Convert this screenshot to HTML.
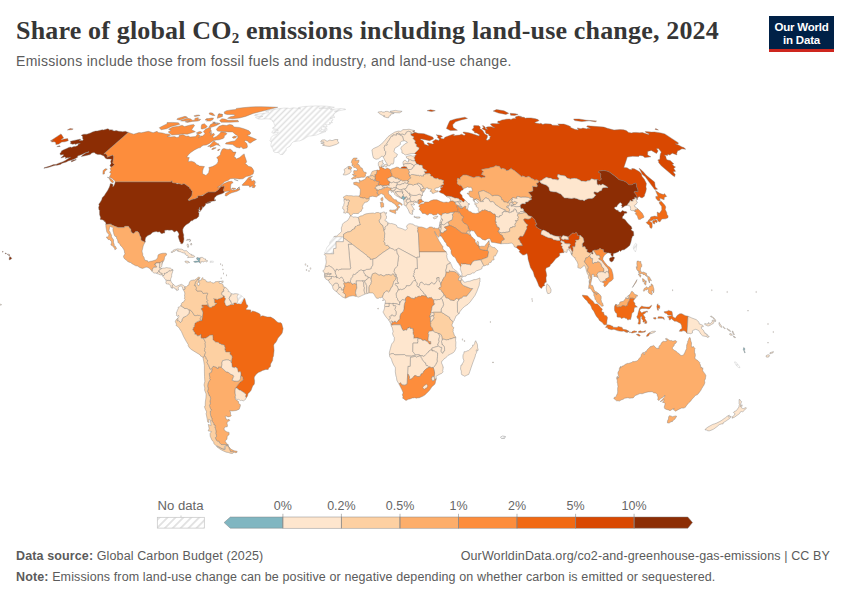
<!DOCTYPE html>
<html><head><meta charset="utf-8">
<style>
html,body{margin:0;padding:0;background:#fff;}
body{width:850px;height:600px;position:relative;overflow:hidden;font-family:"Liberation Sans",sans-serif;}
.t{position:absolute;left:16px;top:15.5px;font-family:"Liberation Serif",serif;font-weight:bold;font-size:26px;color:#363636;white-space:nowrap;letter-spacing:0.17px;}
.t sub{font-size:15px;vertical-align:baseline;position:relative;top:4px;}
.s{position:absolute;left:16px;top:52.5px;font-size:14px;color:#5b5b5b;white-space:nowrap;letter-spacing:0.3px;}
.logo{position:absolute;left:769px;top:16px;width:65px;height:36px;background:#002147;color:#fff;font-size:11.5px;font-weight:bold;line-height:12.5px;text-align:center;box-sizing:border-box;padding-top:5.2px;letter-spacing:-0.2px;}
.logo:after{content:"";position:absolute;left:0;right:0;bottom:0;height:2.8px;background:#ce261e;}
.ft{position:absolute;left:16px;font-size:12.5px;color:#5b5b5b;white-space:nowrap;letter-spacing:0.12px;}
.ft b{color:#5b5b5b;}
svg{position:absolute;left:0;top:0;}
</style></head><body>
<div class="t">Share of global CO<sub>2</sub> emissions including land-use change, 2024</div>
<div class="s">Emissions include those from fossil fuels and industry, and land-use change.</div>
<div class="logo">Our World<br>in Data</div>
<svg width="850" height="600" viewBox="0 0 850 600">
<defs>
<pattern id="hatch" patternUnits="userSpaceOnUse" width="4.2" height="4.2" patternTransform="rotate(-45)">
<rect width="4.2" height="4.2" fill="#fff"/><line x1="0" y1="2.1" x2="4.2" y2="2.1" stroke="#e0e0e0" stroke-width="1.5"/>
</pattern>
<pattern id="hatch2" patternUnits="userSpaceOnUse" width="5.6" height="5.6" patternTransform="rotate(-45)">
<rect width="5.6" height="5.6" fill="#fff"/><line x1="0" y1="2.8" x2="5.6" y2="2.8" stroke="#dedede" stroke-width="1.6"/>
</pattern>
</defs>
<g stroke="#7a7a7a" stroke-width="0.4" stroke-linejoin="round">
<path fill="#8c2d04" d="M172.3 180.8L172.0 182.3L173.7 182.9L175.6 183.1L177.2 184.1L179.0 183.6L181.7 184.4L183.9 183.6L185.5 184.6L186.9 185.4L188.1 186.4L189.4 187.2L189.8 188.2L190.6 188.2L191.2 189.2L191.3 189.5L190.9 190.0L192.4 191.3L192.1 193.6L191.8 195.7L190.6 197.2L188.9 198.8L188.2 199.5L188.7 200.6L189.3 200.6L192.1 199.3L194.6 198.8L197.8 197.5L197.7 195.9L198.9 195.7L202.8 195.7L204.1 194.4L207.0 192.6L208.0 192.0L215.0 192.0L216.1 191.3L218.3 189.7L219.7 187.7L222.0 185.9L222.4 186.4L224.0 185.9L224.5 186.7L223.3 190.3L224.2 191.8L224.2 192.6L221.7 193.8L219.2 194.6L216.9 195.4L215.3 196.9L214.7 197.5L214.2 199.0L214.5 200.3L215.3 200.3L215.3 199.5L215.8 200.0L215.3 200.8L214.0 201.1L212.9 201.1L211.1 201.6L208.9 201.9L206.9 202.6L210.3 202.1L210.7 202.6L207.5 203.4L206.0 203.4L205.3 203.7L205.9 203.9L204.9 205.7L202.8 207.8L202.4 207.0L202.0 206.3L202.3 208.1L202.0 209.1L201.1 210.2L199.4 212.2L199.3 212.0L200.4 210.4L199.6 209.4L199.8 207.0L199.2 208.3L199.2 209.9L197.8 209.6L199.1 210.4L198.4 212.8L199.0 213.0L199.0 213.8L198.7 216.4L196.6 218.5L194.2 219.3L192.3 220.8L191.2 220.8L189.9 221.9L189.5 222.7L186.6 224.5L185.0 225.8L183.7 227.4L182.8 229.2L182.8 231.0L183.1 233.1L183.8 234.9L183.6 236.3L184.0 239.1L183.6 241.0L183.4 242.0L182.5 243.6L181.8 243.8L180.7 243.6L180.7 242.5L179.9 241.7L179.2 239.7L178.5 237.6L178.2 236.5L179.0 234.7L178.8 233.4L177.4 231.3L176.7 230.8L174.2 232.1L173.8 231.8L173.0 230.5L171.8 230.0L169.3 230.2L167.4 230.0L165.5 230.2L164.6 230.5L164.8 231.3L164.6 232.3L164.9 232.9L164.4 233.1L163.6 232.9L162.6 233.4L161.0 233.4L159.8 231.8L157.8 232.1L156.3 231.6L154.9 231.8L152.8 232.3L150.4 234.4L147.9 235.5L146.5 236.8L145.6 237.8L145.2 239.7L145.1 241.0L145.4 241.7L144.5 242.0L143.1 241.2L141.4 240.4L141.0 239.4L141.0 237.6L140.0 236.0L139.5 234.4L138.8 232.6L137.5 231.6L135.7 231.6L133.9 233.6L132.3 232.9L131.2 232.1L131.0 230.8L130.8 229.5L129.9 228.2L129.0 227.4L128.5 226.3L124.8 226.3L124.3 227.6L122.6 227.6L118.2 227.6L113.7 225.8L110.9 224.5L111.3 224.0L108.3 224.2L105.8 224.5L105.9 223.2L105.1 221.6L104.1 221.4L104.2 220.6L103.0 220.3L102.5 219.8L100.4 219.5L100.2 219.0L100.6 217.4L99.6 214.8L99.5 211.2L99.8 210.7L99.0 209.9L98.6 207.6L99.2 205.5L98.8 204.2L100.4 202.1L101.7 199.8L102.2 197.7L104.4 195.4L105.9 193.1L107.5 190.8L109.3 187.2L110.0 185.2L110.2 183.9L110.8 183.4L113.1 184.4L112.7 186.7L113.8 185.9L114.7 183.9L115.4 181.8L171.0 181.8L171.5 180.8ZM128.3 132.4L103.8 153.9L105.7 153.9L106.7 154.6L107.1 155.6L107.0 157.3L112.7 155.1L113.6 156.3L113.5 158.5L112.7 162.9L114.4 164.6L113.1 166.1L111.1 167.3L109.9 165.6L111.1 163.4L110.6 161.4L111.5 159.3L110.0 159.0L107.0 159.0L105.5 158.3L103.9 155.9L100.4 154.4L97.7 154.6L95.3 153.5L94.2 152.5L91.7 153.0L90.2 154.6L86.3 155.4L83.8 156.1L81.3 156.6L82.2 155.4L85.8 153.0L88.6 152.3L88.9 151.6L84.9 153.0L82.0 154.4L77.5 156.1L77.6 157.3L73.8 159.3L70.7 160.2L68.0 161.0L66.4 161.9L62.2 163.2L60.3 164.4L57.0 165.3L55.6 165.3L53.4 165.8L50.4 166.8L47.9 167.5L43.9 168.3L44.2 167.8L47.3 166.8L49.8 166.1L53.6 164.6L56.1 164.4L58.2 163.4L62.4 161.9L65.4 160.5L68.0 158.8L70.7 157.3L67.6 158.0L67.6 157.6L65.4 158.5L65.6 157.3L64.9 156.8L61.9 157.8L60.8 157.8L63.5 155.6L63.4 154.6L60.5 155.1L60.3 153.9L59.8 153.5L61.4 152.1L61.3 151.1L63.8 149.7L66.7 148.5L68.7 147.4L70.5 147.1L71.4 147.4L74.0 146.4L75.4 146.4L77.5 145.7L78.3 144.8L78.0 144.3L80.4 143.4L79.4 143.4L76.9 143.8L75.5 144.6L75.1 143.8L72.7 144.3L70.3 143.6L70.8 142.7L70.4 141.3L74.1 140.4L79.5 139.3L80.9 139.3L79.2 140.4L82.8 140.4L83.3 139.1L82.4 138.2L82.8 137.1L82.4 136.2L81.2 135.3L83.8 134.2L86.9 134.2L90.4 133.0L92.5 131.9L95.4 131.1L97.4 130.9L102.2 129.8L103.4 130.0L107.8 128.7L109.3 129.4L109.3 130.2L110.6 129.8L113.1 130.0L112.3 130.4L114.3 130.9L116.2 130.6L118.8 131.3L121.6 131.5L122.6 131.7L125.4 131.3L127.0 131.9L128.3 132.4ZM60.3 146.4L56.8 146.7L59.4 145.7ZM9.9 259.8L9.0 259.5L9.3 258.2L9.7 256.6L11.1 257.4L11.8 258.5ZM9.5 255.6L8.8 255.6L8.3 254.8L9.1 254.5L9.9 255.1ZM7.1 254.3L8.3 254.0L7.5 254.5ZM5.4 253.8L6.3 253.8L6.1 253.0L5.2 253.0ZM2.9 252.2L2.1 251.7L2.7 251.4L3.3 251.7ZM76.3 159.7L71.5 161.9L71.3 160.7L75.8 159.5Z"/>
<path fill="#fd8d3c" d="M128.3 132.4L133.7 134.2L139.0 132.6L141.3 132.8L148.2 131.3L150.0 131.7L153.1 132.8L157.1 131.3L158.2 132.6L162.5 133.0L165.7 133.9L169.5 134.2L170.6 135.3L167.1 136.4L170.8 136.9L174.5 136.6L176.8 137.5L179.1 136.9L179.0 135.5L183.0 134.6L186.0 136.2L188.4 136.0L190.0 137.1L195.6 136.6L197.5 133.9L200.3 135.7L198.6 137.8L201.1 136.0L202.5 136.0L205.1 133.7L203.4 131.5L205.5 129.2L208.8 127.7L210.7 127.9L210.6 129.8L211.6 131.3L209.2 132.4L212.0 132.8L210.1 135.1L213.8 133.3L214.6 134.8L213.0 136.4L213.3 138.0L216.4 136.4L219.0 134.4L221.0 131.9L223.1 132.1L225.5 132.4L226.9 133.5L226.2 134.6L224.1 136.0L224.4 137.1L223.3 138.4L219.1 139.8L216.5 140.0L213.8 140.4L210.7 142.5L209.5 143.4L206.3 145.0L203.5 145.3L201.6 146.2L200.5 147.6L198.2 148.1L194.5 149.9L190.8 152.5L188.7 154.4L186.6 157.3L189.3 157.6L188.5 160.0L188.3 161.7L191.3 161.2L194.3 162.2L195.6 163.2L196.2 164.4L198.0 165.1L199.5 166.1L202.5 166.3L204.5 166.6L203.3 168.5L202.6 171.0L202.6 173.8L204.7 174.8L205.9 175.5L208.6 172.8L209.4 169.0L208.8 167.5L212.4 166.6L215.4 164.9L217.4 163.2L218.1 161.4L218.0 159.3L216.7 157.6L220.3 154.9L220.6 152.8L222.2 149.2L223.9 148.5L226.5 149.2L228.2 149.5L230.1 149.0L232.7 151.1L232.7 152.1L236.0 152.1L234.0 157.1L235.5 157.6L236.3 159.0L239.6 157.6L242.6 154.9L244.2 153.9L244.7 156.1L245.8 159.0L246.7 161.9L245.2 163.6L247.1 164.9L248.3 166.3L251.1 167.0L252.1 167.8L253.6 170.3L253.9 171.0L253.1 174.0L251.5 174.8L249.8 175.8L246.1 176.5L242.9 178.8L239.4 179.0L235.2 178.5L232.2 178.5L230.1 178.8L227.9 180.6L224.9 181.6L220.8 185.2L217.5 187.4L219.4 186.9L223.8 183.6L228.7 181.6L231.8 181.3L233.2 182.6L230.9 184.1L230.6 186.9L230.5 189.0L232.8 190.3L236.4 189.7L239.4 186.9L239.0 188.7L239.9 189.7L237.0 191.3L231.8 192.8L229.6 193.8L226.5 195.9L225.1 195.7L225.6 193.3L230.0 191.3L226.7 191.3L224.2 191.8L223.3 190.3L224.5 186.7L224.0 185.9L222.4 186.4L222.0 185.9L219.7 187.7L218.3 189.7L216.1 191.3L215.0 192.0L208.0 192.0L204.1 194.4L200.9 195.7L197.7 195.9L197.6 197.5L194.6 198.8L192.1 199.3L189.3 200.6L188.2 199.5L190.6 197.2L191.8 195.7L192.1 193.6L192.4 191.3L190.9 190.0L190.4 188.7L189.5 188.5L189.4 187.2L186.9 185.4L183.9 183.6L181.7 184.4L179.0 183.6L175.6 183.1L173.7 182.9L172.0 182.3L172.3 180.8L171.5 180.8L171.0 181.8L115.0 181.8L114.8 180.6L112.8 179.3L112.1 178.3L109.3 177.3L111.2 173.5L109.6 172.5L111.0 170.3L110.1 168.5L111.1 167.3L113.1 166.1L114.4 164.6L112.7 162.9L113.5 158.5L113.6 156.3L112.7 155.1L107.0 157.3L107.1 155.6L106.7 154.6L105.7 153.9L103.8 153.9ZM113.1 183.1L111.1 181.8L110.1 180.3L108.9 177.8L107.3 177.3L109.1 177.8L111.4 179.3L113.4 181.1ZM104.5 171.8L104.5 173.8L102.9 174.3L103.0 170.8L105.0 168.8L107.3 169.0ZM252.6 176.0L249.0 179.8L250.7 178.8L251.7 179.5L250.9 180.3L252.4 181.1L253.5 180.3L255.2 181.3L254.1 183.1L255.7 182.6L254.2 184.1L255.6 185.7L254.3 187.7L252.1 187.4L253.1 185.4L249.7 187.2L249.0 185.4L242.3 185.4L242.3 184.6L245.3 181.6L248.6 177.5ZM234.2 179.5L238.2 180.8L235.4 179.8ZM232.5 188.0L235.8 188.5L233.6 189.5L231.5 188.5ZM237.8 188.7L239.7 189.2L238.9 187.2L236.5 189.5ZM219.9 149.5L218.0 150.9L217.6 149.9L219.5 149.0ZM216.2 147.8L213.0 149.5L211.8 149.5L211.9 148.8L213.7 147.8ZM220.3 146.0L218.0 145.0L216.2 144.8L213.4 146.2L210.1 147.4L210.2 146.2L207.7 146.4L209.9 145.3L211.5 143.4L213.5 141.3L214.7 141.3L215.4 142.0L216.0 142.7L217.4 143.4L219.1 144.1L218.5 145.0ZM220.2 123.5L215.7 125.8L210.5 127.5L208.9 127.3L210.5 124.5L213.5 123.0L217.6 123.0ZM200.4 131.5L202.2 132.4L200.1 133.7L198.2 133.9L196.3 133.0L198.9 131.7ZM204.4 123.7L206.2 125.4L207.3 126.2L205.8 128.1L202.4 129.0L201.1 128.7L201.3 126.0L201.8 124.5ZM194.6 125.4L192.8 128.1L191.6 129.8L195.4 131.7L192.1 132.8L187.3 134.2L182.8 133.9L179.7 134.4L171.8 135.1L168.2 131.9L171.1 130.2L168.6 129.2L172.8 127.1L178.8 126.2L182.1 125.2L184.4 126.6L190.7 124.9L193.7 124.5ZM166.6 128.7L161.1 129.8L159.3 127.7L163.6 125.4L167.0 123.9L167.0 122.6L172.6 122.4L178.2 122.8L179.1 123.5L179.8 124.3L171.5 126.4ZM197.4 117.7L198.8 117.9L197.9 118.8L197.5 119.6L199.4 119.2L200.7 119.4L200.0 120.2L197.8 121.1L192.3 121.4L187.2 122.4L185.2 121.8L189.8 120.8L182.2 121.1L180.6 120.8L185.6 118.8L187.8 118.3L190.9 119.0L192.1 120.2L194.7 120.2L194.9 118.4ZM198.5 115.0L200.1 115.5L195.2 116.5L193.9 115.9L196.2 115.2ZM209.9 112.8L212.5 113.0L214.9 115.5L212.8 115.4L209.4 114.2L209.0 113.6ZM220.9 114.2L223.0 114.8L221.0 115.5L218.5 115.5L218.9 113.6ZM183.3 119.0L179.9 120.0L176.8 119.4L177.6 118.4L185.0 116.3L187.2 117.1L187.5 117.5L183.9 118.4ZM213.5 118.1L213.0 119.6L210.3 121.1L206.4 121.0L207.8 120.0L205.1 120.0L206.7 118.6L208.4 118.6L211.5 118.1ZM214.3 123.0L217.3 124.1L217.6 123.0L213.5 123.0L212.6 122.2L215.3 122.0Z"/>
<path fill="url(#hatch)" stroke="#c6c6c6" d="M298.6 107.5L303.8 106.5L315.4 105.9L326.2 106.1L334.4 107.3L331.5 107.9L326.3 107.9L318.8 108.1L319.3 108.4L324.2 108.2L328.4 108.7L331.2 108.2L332.1 108.9L330.3 109.6L334.1 109.2L340.9 108.6L345.0 108.9L345.8 109.5L339.8 110.6L338.8 110.9L334.3 111.2L337.6 111.3L335.5 112.7L334.1 113.8L333.5 116.1L335.0 117.3L332.7 117.5L330.0 118.1L333.0 119.0L332.5 120.8L330.8 120.8L332.5 122.6L329.0 122.8L330.7 123.7L329.9 124.3L327.6 124.7L325.4 124.7L327.1 126.2L326.9 127.1L323.9 126.2L323.0 126.8L325.1 127.3L326.9 128.5L327.1 130.2L324.2 130.6L321.4 128.7L321.5 130.0L319.2 131.3L323.7 131.3L326.0 131.5L321.1 133.3L316.2 135.1L310.9 136.0L309.0 136.0L307.1 136.9L304.0 139.1L299.7 140.9L298.7 140.9L296.1 141.3L293.5 141.8L291.4 143.4L290.9 145.0L289.6 146.4L286.1 148.3L286.2 150.2L284.7 152.1L283.0 154.4L280.3 154.6L278.3 152.5L274.7 152.5L273.5 151.4L273.1 149.0L271.1 146.2L270.9 144.6L271.4 142.5L269.9 140.4L271.3 138.9L270.5 138.0L273.4 135.3L276.2 134.6L277.3 133.7L278.4 131.9L276.3 132.6L273.5 133.3L271.8 132.6L272.4 131.1L273.6 130.0L275.2 130.0L278.3 130.4L276.2 129.2L273.3 128.7L272.4 128.1L275.2 126.2L274.7 125.4L273.5 121.8L272.0 121.0L272.6 120.2L269.3 119.0L266.2 118.8L261.8 119.2L258.3 119.0L257.0 118.4L255.4 117.3L259.8 116.7L263.0 116.5L257.0 116.1L254.3 115.4L255.1 114.6L261.6 113.6L267.8 112.7L269.0 111.9L265.6 111.3L267.3 110.7L273.3 109.6L279.0 108.6L283.7 108.1L288.0 108.1L289.2 108.6L293.4 107.8L296.4 108.2L298.2 108.4L300.8 108.9L298.0 108.1L298.6 107.5Z"/>
<path fill="#fdae6b" d="M105.8 224.5L108.4 224.2L111.3 224.0L110.9 224.5L113.7 225.8L118.2 227.6L122.6 227.6L124.3 227.6L124.8 226.3L128.5 226.3L129.0 227.4L129.9 228.2L130.8 229.5L131.0 230.8L131.2 232.1L132.3 232.9L133.9 233.6L135.7 231.6L137.5 231.6L138.8 232.6L139.5 234.4L140.0 236.0L141.0 237.6L141.0 239.4L141.4 240.4L143.1 241.2L144.5 242.0L145.4 241.7L144.0 244.1L143.2 245.9L142.4 249.6L142.0 250.9L142.2 252.2L142.7 253.5L142.8 255.6L144.1 257.4L144.4 259.0L145.1 260.3L147.6 260.8L148.3 262.1L150.4 261.3L152.1 261.1L153.9 260.5L155.4 260.0L156.9 259.0L157.7 257.4L158.0 255.3L158.6 254.5L160.3 253.8L162.9 253.2L164.7 253.2L166.0 253.2L166.6 253.8L166.5 255.1L164.9 256.4L164.2 258.2L164.6 258.5L163.4 261.6L162.7 261.1L162.3 261.1L162.3 261.3L162.7 261.6L162.6 262.4L162.0 263.4L162.2 263.7L161.8 264.7L160.7 262.6L160.5 262.4L160.1 262.5L160.0 262.9L155.9 262.9L155.8 264.2L154.6 264.2L155.4 265.3L156.2 265.8L156.4 266.3L156.8 266.6L156.5 267.3L153.8 267.3L152.4 269.4L152.5 270.0L152.2 271.5L149.7 268.6L148.7 267.9L147.0 267.1L145.6 267.3L143.6 268.1L142.5 268.4L140.9 267.9L139.4 267.3L137.5 266.0L135.7 265.8L133.4 264.5L131.5 263.4L131.2 262.6L129.8 262.4L127.7 261.6L126.9 260.5L124.7 259.0L123.7 257.4L123.5 256.1L124.7 254.3L124.9 253.5L124.4 252.2L124.4 251.1L123.9 249.8L122.3 247.2L120.4 245.4L119.6 243.6L117.9 242.5L117.9 241.5L117.5 239.7L116.5 238.3L116.5 236.5L115.2 236.5L114.2 234.9L113.7 233.6L113.7 232.9L113.0 231.0L112.9 228.9L113.4 227.9L112.0 226.9L111.3 227.1L110.2 226.3L109.6 227.4L109.0 230.5L109.8 231.6L110.6 233.4L111.5 235.2L111.5 236.8L112.0 237.6L112.5 238.3L113.5 239.7L113.5 242.3L114.3 244.6L114.0 245.9L115.1 245.9L116.5 248.3L116.4 248.8L114.9 249.8L114.5 248.3L113.2 246.7L111.9 245.4L110.8 244.9L111.5 242.8L111.4 241.5L109.3 239.4L108.9 239.9L107.3 238.6L106.3 237.0L107.4 237.0L108.6 236.0L109.0 234.7L106.8 232.1L105.9 226.9L105.8 224.5Z"/>
<path fill="#fee6ce" d="M152.2 271.5L152.5 270.0L152.4 269.4L153.8 267.3L156.5 267.3L156.8 266.6L156.4 266.3L156.2 265.8L155.4 265.3L154.6 264.2L155.8 264.2L155.9 262.9L160.0 262.9L159.4 267.9L160.1 267.9L160.7 268.4L161.9 268.4L160.8 269.2L159.2 270.0L159.1 270.5L158.5 271.8L158.1 272.0L156.8 273.1L155.7 273.1L154.3 273.1L153.2 272.6Z"/>
<path fill="#fee6ce" d="M159.4 267.9L160.0 262.9L160.5 262.4L162.3 261.1L161.8 264.7L161.9 266.3L160.1 267.9Z"/>
<path fill="#fee6ce" d="M158.5 271.8L159.1 270.5L159.8 272.6L161.2 273.1L162.1 273.1L162.3 273.4L162.0 274.4L160.3 274.9L158.6 274.1L156.8 273.6L156.8 273.1L158.1 272.0Z"/>
<path fill="#fee6ce" d="M163.0 275.5L162.6 274.7L162.0 274.4L162.3 273.4L161.2 273.1L159.8 272.6L159.1 270.5L159.2 270.0L160.8 269.2L161.9 268.4L163.3 268.1L164.6 268.1L166.7 267.6L168.1 267.9L170.3 268.1L171.6 269.2L172.5 269.4L173.1 270.2L172.1 270.2L171.2 270.5L170.5 271.0L169.6 271.0L169.1 270.7L168.6 271.3L168.4 271.3L167.4 272.6L166.9 272.9L166.0 272.8L165.5 273.4L165.0 273.4L164.3 273.4L164.5 274.7L163.9 275.5Z"/>
<path fill="#fee6ce" d="M166.3 280.4L165.4 279.6L164.6 278.6L164.2 277.8L163.1 276.7L162.1 275.7L162.4 275.2L162.8 275.7L163.0 275.5L163.9 275.5L164.5 274.7L164.3 273.4L165.0 273.4L165.5 273.4L166.0 272.8L166.9 272.9L167.4 272.6L168.4 271.3L168.6 271.3L169.1 270.7L169.6 271.0L170.5 271.0L171.2 270.5L172.1 270.2L173.1 270.2L172.5 271.0L172.7 272.0L172.2 272.9L171.9 273.9L171.5 275.2L171.7 275.7L171.6 277.0L171.4 277.3L170.8 278.3L171.0 279.1L170.5 279.6L170.6 280.4L169.2 280.7L168.6 280.4L168.1 280.7L166.5 280.1Z"/>
<path fill="#fee6ce" d="M173.3 284.3L172.4 285.6L172.2 288.2L170.9 287.5L170.5 286.7L170.7 286.4L170.8 285.6L169.2 284.6L168.5 284.3L168.1 283.5L167.4 284.3L166.9 283.8L166.0 283.5L165.8 283.0L165.9 282.2L166.2 281.2L165.8 280.9L166.3 280.4L166.5 280.1L168.1 280.7L168.6 280.4L169.2 280.7L170.6 280.4L170.8 280.9L171.4 282.2L172.3 283.3L173.3 284.3Z"/>
<path fill="#fee6ce" d="M185.0 286.7L184.7 287.2L185.3 288.8L183.9 289.3L183.0 289.8L182.6 288.2L182.2 286.7L181.1 285.9L179.9 286.2L178.0 287.7L178.6 289.8L176.7 290.6L176.4 289.0L175.4 289.3L175.0 288.2L174.1 288.0L173.4 287.7L172.2 288.2L172.4 285.6L173.3 284.3L175.1 285.9L175.8 286.4L176.9 286.2L177.9 285.6L179.3 285.1L181.4 284.3L183.4 285.4L184.3 286.2Z"/>
<path fill="#fee6ce" d="M177.5 248.8L179.5 249.1L181.3 249.1L183.2 249.8L184.0 250.9L186.3 250.6L188.7 252.7L189.9 254.0L191.9 254.5L191.5 255.3L193.4 255.3L194.8 256.4L194.5 256.9L192.9 257.4L191.5 257.4L190.0 257.3L187.6 257.7L188.3 256.1L187.5 255.3L186.1 255.3L185.3 254.5L185.1 253.0L183.7 253.0L181.7 252.5L181.1 251.9L178.3 251.4L177.4 250.9L178.4 250.4L176.2 250.1L174.4 251.4L173.5 251.4L173.0 252.2L172.0 252.5L170.9 252.2L172.4 251.4L173.0 250.4L175.2 249.4L177.0 249.1Z"/>
<path fill="#fee6ce" d="M186.6 261.1L188.2 261.3L189.2 261.9L189.6 262.6L188.0 262.6L187.3 263.2L186.0 262.6L184.9 261.9L185.2 261.1Z"/>
<path fill="#80b6c1" d="M197.0 257.4L197.8 258.5L196.4 258.2L197.2 259.8L198.5 260.5L197.7 261.3L196.1 261.1L193.6 261.6L194.9 262.4L198.3 261.9L199.9 262.4L200.0 261.6L199.6 260.8L200.3 257.9L199.0 257.9Z"/>
<path fill="#fee6ce" d="M200.3 257.9L200.6 257.4L202.4 257.4L203.7 258.2L204.5 259.0L205.9 259.0L205.6 259.8L206.8 260.8L207.8 260.8L206.7 261.9L205.7 261.3L204.7 261.3L203.8 261.9L202.7 261.9L202.2 261.3L201.5 261.6L200.5 263.4L199.8 262.9L200.0 261.6L199.6 260.8Z"/>
<path fill="url(#hatch)" stroke="#c6c6c6" d="M212.3 261.1L213.4 261.3L213.8 261.9L213.3 262.4L211.5 262.4L210.1 262.6L210.2 261.3L210.5 261.1Z"/>
<path fill="#fee6ce" d="M188.5 247.2L187.8 247.5L187.5 245.9L186.7 245.1L188.0 243.8L188.7 245.9ZM189.0 239.9L186.4 240.4L187.0 239.4L188.8 239.4ZM190.8 239.9L190.0 241.7L189.6 241.5L190.0 240.2L189.1 239.1ZM191.8 244.1L191.1 243.0L190.6 244.9L191.5 245.1Z"/>
<path fill="#fee6ce" d="M221.3 281.2L223.2 280.9L222.8 283.0L221.5 282.2Z"/>
<path fill="#f16913" d="M235.4 388.3L237.8 384.9L239.9 382.3L241.3 381.2L243.2 379.7L242.9 377.6L241.6 376.0L240.5 376.5L240.8 375.2L240.9 373.7L240.7 372.1L239.8 371.6L239.2 372.1L238.3 372.1L238.0 371.1L237.5 368.7L237.0 367.9L235.3 367.1L234.5 367.7L232.2 367.1L231.8 363.5L231.0 362.2L231.7 361.6L231.5 360.1L231.9 359.0L232.2 356.9L231.6 355.4L230.2 354.6L229.9 353.5L230.2 352.0L225.7 352.0L224.7 348.8L225.2 348.8L225.1 347.5L224.6 347.0L224.5 345.4L223.1 344.7L221.7 344.7L220.8 343.9L219.1 343.4L218.1 342.3L215.6 342.1L212.9 339.7L213.1 337.9L212.8 336.8L212.9 335.0L209.9 335.3L208.6 336.3L206.8 337.4L206.2 338.1L205.0 338.1L203.4 338.1L202.1 338.4L201.1 338.1L200.9 334.2L199.1 335.8L197.1 335.8L196.1 334.2L194.7 334.2L195.1 332.9L193.7 331.3L192.6 329.0L193.3 328.5L193.3 327.4L194.6 326.6L194.3 325.3L194.8 324.3L194.9 323.2L197.7 321.4L199.5 320.9L199.7 320.6L201.8 320.6L202.8 313.6L202.8 312.3L202.3 310.7L201.4 309.9L201.4 308.1L202.6 307.6L203.0 307.8L203.3 306.8L201.9 306.5L201.9 305.0L206.3 305.0L207.2 304.2L207.7 305.0L208.1 306.5L208.6 306.0L209.9 307.6L211.8 307.3L212.0 306.5L213.9 306.0L214.8 305.5L215.1 304.4L216.7 303.7L216.7 303.1L214.6 302.9L214.4 301.3L214.4 299.5L213.5 298.7L214.0 298.7L215.6 299.0L217.4 299.5L218.1 299.0L219.8 298.4L222.3 297.6L223.3 296.6L223.0 295.8L224.2 295.8L224.6 296.3L224.4 297.4L225.1 297.9L225.8 299.0L225.0 300.0L224.6 302.1L225.2 303.7L225.4 304.7L226.8 306.0L228.0 306.0L228.2 305.5L228.9 305.5L229.8 305.0L230.7 304.4L231.9 304.4L232.6 304.4L233.7 304.7L234.0 304.2L233.5 303.7L233.8 302.9L234.7 303.1L235.8 302.9L237.2 303.4L238.1 303.9L238.8 303.1L239.3 303.4L239.7 303.9L240.9 303.9L241.6 302.9L242.6 301.0L243.7 298.4L244.7 298.4L245.1 299.7L246.4 304.4L247.6 305.0L247.8 306.8L245.9 308.9L246.6 309.7L250.8 309.9L250.8 312.5L252.6 311.0L255.4 311.8L259.3 313.6L260.5 314.9L260.1 316.5L262.8 315.7L267.2 317.0L270.7 317.0L274.1 319.1L277.2 321.9L278.8 322.7L280.9 322.7L281.8 323.8L282.6 326.9L283.1 328.5L282.2 332.9L281.1 334.5L278.0 338.1L276.5 341.3L275.0 343.4L274.3 343.6L273.7 345.4L274.1 350.4L273.7 354.3L273.5 356.2L272.9 357.2L272.6 360.6L270.6 364.0L270.5 366.6L268.6 367.9L268.2 369.5L265.8 369.5L262.5 370.5L260.7 371.6L258.3 372.4L256.0 374.4L254.3 377.1L254.2 378.9L254.6 380.5L254.5 383.1L254.2 384.4L252.8 385.7L251.0 390.4L249.3 392.5L248.0 393.5L247.5 396.1L246.2 397.7L245.3 396.1L246.2 394.8L244.6 393.0L242.6 391.7L240.1 390.1L239.2 390.1L236.7 388.0Z"/>
<path fill="#fdae6b" d="M216.2 367.1L217.7 369.0L218.4 366.9L221.1 366.9L221.4 367.4L226.1 371.8L227.9 372.1L230.8 374.2L233.2 375.2L233.8 376.3L232.1 380.2L234.4 381.0L236.9 381.2L238.6 381.0L240.4 378.9L240.5 376.5L241.6 376.0L242.9 377.6L243.2 379.7L241.3 381.2L239.9 382.3L237.8 384.9L235.4 388.3L235.1 390.4L235.1 393.0L235.6 395.6L235.3 396.4L235.3 398.0L235.4 399.3L238.6 401.6L238.6 403.4L240.3 404.5L240.4 405.8L239.2 409.2L236.3 410.5L232.1 411.0L229.7 410.7L230.5 412.3L230.6 414.4L231.3 415.7L230.3 416.4L228.1 416.9L225.9 415.9L225.3 416.7L226.3 419.3L228.0 420.0L228.7 419.0L229.8 420.6L228.1 421.3L226.9 422.9L227.5 425.5L227.2 426.8L225.4 426.8L224.2 428.3L224.2 430.1L226.9 431.9L229.1 432.4L229.1 434.7L227.2 436.2L227.0 439.3L225.6 440.3L225.2 441.3L227.0 444.0L228.9 445.3L227.9 445.3L225.9 444.8L221.1 444.5L219.6 443.0L218.9 441.3L217.5 441.3L216.5 440.5L215.2 437.7L216.5 436.7L216.4 434.9L215.7 433.6L216.0 431.6L215.4 428.3L214.6 426.8L215.5 426.2L214.9 425.2L213.7 424.7L214.0 423.7L212.9 422.6L211.5 419.8L212.2 419.3L210.7 415.9L210.3 413.3L210.3 411.0L211.4 410.2L210.0 407.6L209.4 405.3L210.4 403.4L209.9 401.4L210.6 398.7L210.1 396.4L209.3 395.9L207.5 391.4L208.2 388.6L207.6 386.2L207.9 383.9L209.0 381.2L210.3 379.7L209.5 378.6L209.8 377.8L209.2 373.4L211.5 372.1L211.9 369.5L211.6 368.7L213.1 366.3ZM236.9 452.5L235.1 452.7L233.7 451.8L232.5 451.8L230.6 451.8L228.2 446.0L229.3 447.3L231.1 449.3L234.3 450.8L237.2 451.3Z"/>
<path fill="#fdd0a2" d="M211.6 368.7L211.9 369.5L211.5 372.1L209.2 373.4L209.8 377.8L209.5 378.6L210.3 379.7L209.0 381.2L207.9 383.9L207.6 386.2L208.2 388.6L207.5 391.4L209.3 395.9L210.1 396.4L210.6 398.7L209.9 401.4L210.4 403.4L209.4 405.3L210.0 407.6L211.4 410.2L210.3 411.0L210.3 413.3L210.7 415.9L212.2 419.3L211.5 419.8L212.9 422.6L214.0 423.7L213.7 424.7L214.9 425.2L215.5 426.2L214.6 426.8L215.4 428.3L216.0 431.6L215.7 433.6L216.4 434.9L216.5 436.7L215.2 437.7L216.5 440.5L217.5 441.3L218.9 441.3L219.6 443.0L221.1 444.5L225.9 444.8L227.9 445.3L226.1 445.3L225.6 445.8L224.2 446.8L224.8 449.0L224.1 449.3L221.4 448.3L218.4 446.5L215.5 445.3L213.9 443.5L213.8 442.0L212.1 440.5L210.2 436.2L210.0 433.6L211.5 431.6L208.1 430.8L209.2 428.8L208.3 424.4L211.1 425.5L210.3 420.0L208.6 419.3L209.1 422.6L207.7 422.1L207.1 418.5L206.1 413.6L206.7 412.0L205.4 409.4L204.4 406.6L205.2 406.3L205.3 402.1L205.9 398.0L206.1 394.0L204.6 390.1L204.8 388.0L204.0 384.9L204.8 381.5L204.5 376.5L204.4 371.1L204.4 365.3L203.7 361.1L202.9 357.2L204.0 356.7L204.5 355.4L205.9 357.2L206.3 359.0L207.7 360.1L207.1 362.7L208.8 365.6L210.1 369.2ZM228.2 446.0L230.6 451.8L232.5 451.8L233.7 451.8L233.6 452.7L232.4 453.5L231.4 453.5L230.1 453.2L228.3 452.5L226.2 452.2L223.0 450.8L220.5 449.5L216.5 446.5L218.5 447.0L222.0 448.8L224.9 449.8L225.4 448.5L225.2 446.8L226.7 445.8Z"/>
<path fill="#fdd0a2" d="M204.5 355.4L204.0 356.7L202.9 357.2L200.5 355.9L200.2 354.9L195.6 352.2L191.2 349.4L189.2 347.5L188.1 345.4L188.3 344.7L186.2 341.3L183.6 336.6L181.3 331.3L180.3 330.0L179.3 328.2L177.6 326.4L175.9 325.3L176.6 324.3L175.3 321.7L176.0 319.8L177.8 318.3L178.0 319.3L177.4 320.1L177.6 320.9L178.5 320.6L179.4 321.2L180.4 322.5L181.8 321.2L182.0 319.6L183.5 317.2L186.3 316.2L188.8 313.6L189.4 311.8L188.9 309.9L189.6 309.7L191.2 310.7L192.0 312.0L192.9 312.8L194.3 315.4L196.2 315.7L197.3 315.1L198.2 315.4L199.6 315.4L201.5 316.5L199.9 319.1L200.6 319.3L201.8 320.6L199.7 320.6L199.5 320.9L197.7 321.4L194.9 323.2L194.8 324.3L194.3 325.3L194.6 326.6L193.3 327.4L193.3 328.5L192.6 329.0L193.7 331.3L195.1 332.9L194.7 334.2L196.1 334.2L197.1 335.8L199.1 335.8L200.9 334.2L201.1 338.1L202.1 338.4L203.4 338.1L205.5 342.3L205.1 343.1L205.3 344.9L205.4 347.3L204.6 348.6L204.9 349.4L204.5 350.4L205.6 352.5Z"/>
<path fill="#fdd0a2" d="M221.1 366.9L218.4 366.9L217.7 369.0L216.2 367.1L213.1 366.3L211.6 368.7L210.1 369.2L208.8 365.6L207.1 362.7L207.7 360.1L206.3 359.0L205.9 357.2L204.5 355.4L205.6 352.5L204.5 350.4L204.9 349.4L204.6 348.6L205.4 347.3L205.3 344.9L205.1 343.1L205.5 342.3L203.4 338.1L205.0 338.1L206.2 338.1L206.8 337.4L208.6 336.3L209.9 335.3L212.9 335.0L212.8 336.8L213.1 337.9L212.9 339.7L215.6 342.1L218.1 342.3L219.1 343.4L220.8 343.9L221.7 344.7L223.1 344.7L224.5 345.4L224.6 347.0L225.1 347.5L225.2 348.8L224.7 348.8L225.7 352.0L230.2 352.0L229.9 353.5L230.2 354.6L231.6 355.4L232.2 356.9L231.9 359.0L231.5 360.1L231.7 361.6L231.0 362.2L231.0 361.4L228.8 360.1L226.8 359.8L222.7 360.6L221.8 363.0L222.0 364.5L221.4 367.4Z"/>
<path fill="#fee6ce" d="M221.4 367.4L222.0 364.5L221.8 363.0L222.7 360.6L226.8 359.8L228.8 360.1L231.0 361.4L231.0 362.2L231.8 363.5L232.2 367.1L234.5 367.7L235.3 367.1L237.0 367.9L237.5 368.7L238.0 371.1L238.3 372.1L239.2 372.1L239.8 371.6L240.7 372.1L240.9 373.7L240.8 375.2L240.5 376.5L240.4 378.9L238.6 381.0L236.9 381.2L234.4 381.0L232.1 380.2L233.8 376.3L233.2 375.2L230.8 374.2L227.9 372.1L226.1 371.8Z"/>
<path fill="#fee6ce" d="M235.4 388.3L236.7 388.0L239.2 390.1L240.1 390.1L242.6 391.7L244.6 393.0L246.2 394.8L245.3 396.1L246.2 397.7L245.6 399.3L243.5 400.8L241.6 400.3L240.6 400.6L238.4 399.3L236.9 399.5L235.3 398.0L235.3 396.4L235.6 395.6L235.1 393.0L235.1 390.4Z"/>
<path fill="#fee6ce" d="M177.8 318.3L178.9 316.5L178.4 315.1L177.5 316.5L176.1 315.1L176.6 314.6L176.3 312.3L177.0 311.8L177.4 310.2L178.3 308.4L178.1 307.3L179.5 306.8L180.9 305.7L183.2 307.3L183.6 307.3L184.3 308.4L186.2 308.6L186.8 308.4L188.0 309.1L188.9 309.9L189.4 311.8L188.8 313.6L186.3 316.2L183.5 317.2L182.0 319.6L181.8 321.2L180.4 322.5L179.4 321.2L178.5 320.6L177.6 320.9L177.4 320.1L178.0 319.3Z"/>
<path fill="#fdd0a2" d="M188.9 309.9L188.0 309.1L186.8 308.4L186.2 308.6L184.3 308.4L183.6 307.3L183.2 307.3L180.9 305.7L180.7 305.0L181.6 304.7L181.4 303.4L182.1 302.6L183.3 302.3L184.2 300.8L185.2 299.5L184.3 298.7L184.8 297.1L184.4 294.8L184.9 294.2L184.5 291.9L183.6 290.6L183.9 289.3L184.8 289.5L185.3 288.8L184.7 287.2L185.0 286.7L186.3 286.9L188.0 285.1L189.0 284.8L189.0 283.8L189.6 281.7L191.1 280.4L192.4 280.4L192.7 279.9L194.5 280.1L196.4 278.8L197.4 278.1L198.4 277.0L199.3 277.0L200.0 277.8L199.4 278.6L197.8 279.1L197.3 280.4L196.3 281.2L195.5 282.0L195.2 284.1L194.4 285.4L195.6 285.6L195.8 286.9L196.4 287.5L196.4 288.5L196.1 289.5L196.3 290.1L196.8 290.3L197.2 291.1L200.2 290.9L201.6 291.1L203.1 293.5L204.0 293.2L205.6 293.2L207.0 292.9L207.9 293.5L207.4 294.8L206.9 295.8L206.6 297.6L207.1 299.5L207.8 300.3L207.7 300.8L206.6 302.1L207.5 302.6L207.9 303.4L208.6 306.0L208.1 306.5L207.7 305.0L207.2 304.2L206.3 305.0L201.9 305.0L201.9 306.5L203.3 306.8L203.0 307.8L202.6 307.6L201.4 308.1L201.4 309.9L202.3 310.7L202.8 312.3L202.8 313.6L201.8 320.6L200.6 319.3L199.9 319.1L201.5 316.5L199.6 315.4L198.2 315.4L197.3 315.1L196.2 315.7L194.3 315.4L192.9 312.8L192.0 312.0L191.2 310.7L189.6 309.7Z"/>
<path fill="#fdd0a2" d="M199.4 278.6L199.2 279.4L198.0 279.6L198.6 280.7L198.5 282.2L197.3 283.5L198.1 285.6L199.0 285.6L199.8 283.5L198.9 282.8L199.1 280.7L201.9 279.6L201.7 278.6L202.7 277.5L203.3 279.4L204.9 279.6L206.4 280.9L206.3 281.7L208.4 282.0L210.9 281.7L212.0 282.8L213.8 283.0L215.3 282.2L215.3 281.7L218.1 281.4L220.8 281.4L218.9 282.2L219.6 283.5L221.4 283.5L223.2 284.8L223.3 286.9L224.5 286.9L225.4 287.5L223.5 289.0L223.5 290.1L224.1 291.1L223.7 291.4L222.0 291.9L222.2 293.2L221.5 293.7L223.0 295.8L223.3 296.6L222.3 297.6L219.8 298.4L218.1 299.0L217.4 299.5L215.6 299.0L214.0 298.7L213.5 298.7L214.4 299.5L214.4 301.3L214.6 302.9L216.7 303.1L216.7 303.7L215.1 304.4L214.8 305.5L213.9 306.0L212.0 306.5L211.8 307.3L209.9 307.6L208.6 306.0L207.9 303.4L207.5 302.6L206.6 302.1L207.7 300.8L207.8 300.3L207.1 299.5L206.6 297.6L206.9 295.8L207.4 294.8L207.9 293.5L207.0 292.9L205.6 293.2L204.0 293.2L203.1 293.5L201.6 291.1L200.2 290.9L197.2 291.1L196.8 290.3L196.3 290.1L196.1 289.5L196.4 288.5L196.4 287.5L195.8 286.9L195.6 285.6L194.4 285.4L195.2 284.1L195.5 282.0L196.3 281.2L197.3 280.4L197.8 279.1Z"/>
<path fill="#fee6ce" d="M232.6 304.4L231.9 304.4L230.7 304.4L229.8 305.0L228.9 305.5L228.2 305.5L228.0 306.0L226.8 306.0L225.4 304.7L225.2 303.7L224.6 302.1L225.0 300.0L225.8 299.0L225.1 297.9L224.4 297.4L224.6 296.3L224.2 295.8L223.0 295.8L221.5 293.7L222.2 293.2L222.0 291.9L223.7 291.4L224.1 291.1L223.5 290.1L223.5 289.0L225.4 287.5L227.0 288.5L228.3 290.3L228.2 291.6L229.2 291.6L230.5 292.9L231.4 293.7L230.9 296.1L229.5 296.9L229.5 297.4L229.2 298.7L230.1 300.8L230.8 300.8L231.0 302.1Z"/>
<path fill="#fee6ce" d="M237.2 303.4L235.8 302.9L234.7 303.1L233.8 302.9L233.5 303.7L234.0 304.2L233.7 304.7L232.6 304.4L231.0 302.1L230.8 300.8L230.1 300.8L229.2 298.7L229.5 297.4L229.5 296.9L230.9 296.1L231.4 293.7L234.2 294.2L234.4 293.7L236.2 293.7L238.5 294.2L237.3 296.6L237.5 298.4L238.4 300.0L237.9 301.0L237.7 302.3Z"/>
<path fill="url(#hatch)" stroke="#c6c6c6" d="M243.7 298.4L242.6 301.0L241.6 302.9L240.9 303.9L239.7 303.9L239.3 303.4L238.8 303.1L238.1 303.9L237.2 303.4L237.7 302.3L237.9 301.0L238.4 300.0L237.5 298.4L237.3 296.6L238.5 294.2L239.4 294.8L241.0 295.3L243.5 297.4Z"/>
<path fill="#d94801" d="M414.1 132.1L418.1 133.3L424.0 133.7L431.3 136.4L433.0 137.3L433.5 138.9L429.5 140.7L421.2 138.9L420.1 139.3L423.3 140.9L424.5 144.3L428.6 145.7L428.4 144.6L427.0 143.4L428.0 142.7L432.7 144.1L433.9 143.4L432.3 141.8L435.5 139.5L438.9 140.4L439.4 138.9L437.5 137.5L437.9 136.2L436.2 134.8L441.2 135.5L442.5 136.9L440.6 137.1L441.1 138.4L443.7 138.9L444.9 137.3L453.1 134.2L454.5 134.4L453.4 135.7L456.4 135.3L459.5 135.1L461.6 134.2L464.2 135.5L465.5 134.2L463.0 132.8L463.5 131.9L468.8 132.8L471.5 133.5L479.0 136.0L479.5 134.8L476.6 133.0L474.5 132.8L474.5 131.7L472.5 130.2L472.1 129.6L473.8 127.7L473.6 125.8L474.4 125.4L479.0 125.8L480.3 127.1L479.9 128.7L481.5 129.4L483.0 130.9L484.7 133.9L487.3 135.3L487.5 136.9L486.1 140.0L488.2 140.2L488.5 139.5L489.9 138.9L489.7 137.8L490.6 136.6L488.8 135.5L488.5 133.9L486.5 133.7L485.5 132.6L485.3 130.4L482.0 128.7L483.8 127.3L482.4 125.8L483.0 125.6L484.8 126.8L485.7 129.0L487.7 129.2L485.7 127.7L487.8 126.8L491.2 126.8L495.0 127.9L492.2 126.2L490.3 124.1L492.6 123.5L496.6 123.7L499.7 123.5L497.4 122.2L498.2 121.0L499.9 121.0L501.9 120.0L505.4 119.6L505.5 119.2L509.4 119.0L511.0 119.4L513.2 118.4L516.1 118.4L515.2 117.5L515.7 116.7L518.3 115.9L521.6 116.5L520.3 117.1L524.0 117.3L525.6 118.3L526.6 117.9L531.0 117.9L535.7 118.8L538.0 119.6L539.0 120.6L538.1 121.1L535.2 122.2L534.7 122.8L537.0 123.3L539.9 123.7L540.8 123.3L543.3 124.7L543.3 124.1L545.4 123.7L550.9 124.1L552.5 125.2L559.5 125.4L557.8 123.9L561.4 124.1L563.9 124.1L568.1 125.4L570.5 126.6L570.6 127.5L574.7 129.2L578.4 130.0L577.3 127.9L581.0 128.7L582.9 128.1L587.2 129.0L587.4 128.3L590.5 128.5L586.6 126.6L587.6 125.8L603.9 127.1L607.3 128.3L614.0 130.0L620.0 129.6L623.6 129.8L626.2 130.6L628.6 132.4L631.5 133.0L633.3 132.6L636.0 132.4L639.6 132.8L642.4 132.6L648.3 134.6L649.4 133.9L645.8 132.4L645.3 131.5L651.4 132.1L654.6 131.9L661.1 133.0L664.8 133.9L678.5 142.9L677.8 144.1L675.2 143.8L678.4 145.0L682.0 146.9L683.8 147.6L685.7 149.2L681.9 148.8L679.0 150.4L677.7 150.7L677.1 152.3L676.6 153.9L677.0 154.9L672.3 153.2L669.9 155.1L667.8 154.2L667.6 155.4L664.5 154.9L665.8 156.6L666.3 159.0L667.6 160.0L670.2 160.5L673.9 163.9L672.2 164.1L673.7 166.1L675.5 167.0L673.7 168.5L675.6 171.3L673.1 171.8L675.2 174.5L674.6 176.8L672.1 175.0L667.8 171.3L661.3 165.8L658.6 162.4L658.7 161.0L657.7 160.0L659.9 159.3L660.0 156.3L660.4 153.9L661.3 152.1L658.4 148.5L656.5 148.8L658.1 150.9L656.5 153.5L651.3 150.4L647.7 151.4L647.6 155.1L650.9 156.8L647.3 157.3L644.8 157.6L643.0 155.9L639.7 155.4L638.6 156.6L632.7 156.3L627.3 157.1L625.8 161.7L623.8 167.5L627.1 167.8L629.3 169.3L631.7 169.8L631.8 168.5L634.2 168.8L639.2 171.5L641.4 173.8L641.9 176.3L644.3 179.3L646.4 183.4L645.9 186.9L646.4 188.7L645.8 191.8L644.7 194.6L644.4 196.2L642.4 197.7L641.2 197.7L639.1 196.4L637.3 198.2L637.7 199.3L637.0 198.8L636.2 197.5L637.3 197.5L635.8 194.4L633.8 192.0L635.2 191.3L638.0 191.8L637.7 189.2L636.4 186.4L636.5 185.4L635.9 183.1L633.2 183.9L632.1 184.9L629.0 184.9L626.7 182.6L623.1 180.8L619.0 179.8L616.9 177.5L614.4 175.8L612.6 174.3L609.7 172.3L607.4 171.3L603.9 170.5L601.3 170.8L599.2 171.0L598.5 172.3L600.1 173.0L601.0 174.3L600.7 175.3L600.7 177.8L601.6 179.0L599.8 180.6L596.8 179.5L594.5 179.8L591.7 178.8L589.7 180.6L587.3 180.8L585.9 181.6L583.0 181.1L581.2 181.1L579.3 179.8L576.5 178.5L574.3 178.3L571.9 178.5L570.4 179.0L567.0 178.0L565.4 176.0L562.9 175.5L560.7 175.3L558.0 174.3L557.3 176.8L559.0 178.3L558.2 180.1L554.8 179.3L552.8 179.3L550.6 178.0L548.7 178.0L546.4 177.3L544.1 178.5L541.3 180.6L539.5 181.1L538.9 181.3L537.0 179.8L534.5 180.1L533.2 179.0L531.5 178.5L529.8 177.0L528.5 176.5L525.9 177.3L522.6 175.8L522.0 177.0L514.7 170.8L511.2 168.8L511.7 168.0L508.0 170.5L506.0 170.5L505.6 169.3L502.7 168.3L501.1 169.0L499.3 166.3L495.6 165.8L494.3 166.8L489.9 167.8L489.1 168.3L482.1 169.3L481.6 170.0L483.7 171.8L482.0 172.5L482.6 173.3L481.2 174.3L485.1 176.0L484.9 177.3L482.1 177.3L481.8 178.0L478.9 176.5L475.8 176.8L473.9 177.8L471.2 176.8L466.3 175.0L463.3 175.0L460.0 177.8L460.2 179.3L457.7 178.0L457.0 180.8L457.5 181.3L457.0 183.4L459.1 185.2L460.7 185.2L462.3 186.7L462.4 188.0L463.5 188.5L462.9 190.0L461.2 190.5L459.7 193.1L462.1 195.4L462.2 197.2L465.2 200.3L464.2 201.3L463.9 201.9L463.0 201.9L461.2 200.3L460.5 200.0L459.2 199.5L458.3 198.5L456.1 198.0L454.9 198.2L454.7 198.0L451.5 196.7L448.3 196.2L447.1 196.9L446.4 196.2L443.3 193.8L440.6 192.8L438.7 191.5L440.1 191.0L441.3 189.0L440.1 188.0L442.7 186.9L442.6 186.2L440.9 186.7L440.9 185.7L441.7 184.9L443.5 184.6L443.7 183.9L443.0 182.3L443.6 181.1L443.4 180.3L440.3 179.5L439.1 179.5L437.6 178.3L436.1 178.8L433.5 177.8L433.4 177.3L432.4 176.3L430.7 176.0L430.4 175.3L430.9 174.8L429.4 173.5L427.3 173.8L426.7 173.5L426.4 174.0L425.6 174.0L424.7 172.5L424.1 171.5L424.5 171.3L426.1 171.5L426.7 170.8L426.0 170.3L424.5 169.3L423.0 168.5L422.3 167.3L422.4 166.6L422.1 165.3L420.1 164.9L419.2 165.1L418.7 164.4L416.7 163.9L415.8 162.4L415.4 161.4L414.4 160.7L415.0 160.0L414.0 157.8L415.0 156.3L414.7 155.9L416.5 154.6L414.4 153.5L417.6 150.4L418.9 149.0L416.2 146.2L416.6 144.8L414.7 143.1L415.4 141.1L412.9 138.6L414.0 136.9L410.9 135.3L410.8 133.7L412.1 133.5L414.7 132.6L412.5 131.3L414.5 130.6ZM61.0 133.9L62.3 135.7L63.6 138.0L61.4 139.3L61.6 140.0L63.1 139.3L67.7 138.6L68.3 140.7L64.9 141.8L61.8 142.0L58.8 144.1L55.9 144.6L55.8 143.1L55.3 142.0L53.9 141.8L51.5 142.0L51.6 141.3L53.4 140.4L50.4 140.9ZM403.9 166.3L405.9 166.8L406.9 167.0L406.9 168.5L403.4 168.5L401.0 168.3L401.5 167.0L403.6 166.8ZM573.6 119.0L579.0 119.0L586.4 120.2L596.6 121.0L595.3 121.8L589.0 120.8L581.8 121.6L574.7 120.6ZM655.7 128.5L655.1 129.4L658.4 130.0ZM70.1 128.5L73.2 129.0L72.0 129.6L67.4 130.0ZM649.0 177.5L654.6 182.1L655.3 186.9L657.6 189.2L654.7 189.5L649.1 182.1L645.3 176.8L642.4 174.5L639.2 168.3L640.8 169.5L644.0 172.5L645.8 174.8Z"/>
<path fill="#fee6ce" d="M409.0 129.2L414.5 130.6L412.5 131.3L414.7 132.6L412.1 133.5L410.8 133.7L411.1 132.1L408.7 131.3L406.4 132.1L406.0 133.7L404.5 134.8L402.7 134.2L400.6 134.4L398.3 133.0L397.4 133.7L396.4 133.7L396.5 135.3L393.2 134.8L392.9 136.2L391.4 136.2L390.4 137.8L389.0 140.2L386.8 143.4L387.4 144.3L387.0 145.3L385.2 145.0L384.2 147.4L384.6 150.4L385.8 151.6L385.5 154.4L384.2 156.1L383.4 157.3L382.2 155.9L378.6 158.8L376.0 159.3L373.5 158.0L372.7 155.4L371.9 149.9L373.5 148.5L378.2 146.4L381.4 144.1L384.4 140.9L388.1 136.6L390.5 134.8L394.8 132.1L398.3 131.1L400.9 131.3L403.0 129.6L406.1 129.6ZM384.7 112.1L385.1 111.5L387.2 111.3L389.3 112.1L394.2 113.4L390.8 114.2L390.4 115.7L389.1 116.1L388.7 117.7L386.9 117.7L383.5 116.5L384.8 115.9L382.5 115.4L379.3 113.6L377.9 112.1L381.8 111.5L382.6 112.1ZM398.1 110.9L402.1 111.3L399.7 112.8L396.2 112.7L391.9 112.3L390.1 111.3L395.4 110.4Z"/>
<path fill="#fee6ce" d="M401.5 141.3L400.1 142.9L400.6 144.3L398.1 146.2L394.8 148.3L394.0 151.6L395.5 153.2L397.5 154.4L396.2 157.1L394.2 157.8L393.9 161.9L393.2 164.1L390.9 163.9L390.0 165.8L387.7 165.8L386.9 163.6L385.2 161.0L383.4 157.3L384.2 156.1L385.5 154.4L385.8 151.6L384.6 150.4L384.2 147.4L385.2 145.0L387.0 145.3L387.4 144.3L386.8 143.4L389.0 140.2L390.4 137.8L391.4 136.2L392.9 136.2L393.2 134.8L396.5 135.3L396.4 133.7L397.4 133.7L400.0 134.8L402.8 136.4L403.6 139.8L404.3 140.7Z"/>
<path fill="#fee6ce" d="M410.8 133.7L410.9 135.3L414.0 136.9L412.9 138.6L415.4 141.1L414.7 143.1L416.6 144.8L416.2 146.2L419.3 147.8L418.9 149.0L417.6 150.4L414.4 153.5L411.2 153.7L408.0 154.4L405.2 155.1L403.8 153.7L401.9 153.0L401.9 150.7L400.8 148.5L401.3 147.1L402.7 145.7L406.2 143.1L407.4 142.7L407.0 141.8L404.3 140.7L403.6 139.8L402.8 136.4L400.0 134.8L397.4 133.7L398.3 133.0L400.6 134.4L402.7 134.2L404.5 134.8L406.0 133.7L406.4 132.1L408.7 131.3L411.1 132.1Z"/>
<path fill="#fee6ce" d="M382.0 166.8L380.8 167.3L379.3 166.8L378.4 165.6L378.3 163.2L378.6 162.4L379.0 161.7L380.7 161.4L381.4 161.0L382.8 160.2L382.7 161.4L382.4 162.2L382.7 162.9L383.6 163.2L383.3 164.1L382.7 163.9L381.3 165.6ZM387.2 165.3L386.3 167.3L384.0 165.8L383.8 164.9L386.6 164.1ZM382.1 165.8L383.8 166.1L383.3 167.0Z"/>
<path fill="#fd8d3c" d="M390.3 169.8L391.0 171.3L390.5 171.8L391.2 172.8L391.9 174.0L391.8 175.0L392.7 176.5L391.9 176.8L391.3 176.5L390.9 177.0L389.4 177.5L388.8 178.0L387.3 178.5L387.7 179.3L388.0 180.6L389.1 181.1L390.3 182.1L389.6 183.4L389.0 183.6L389.3 185.4L389.2 185.7L388.5 185.2L387.5 185.2L386.1 185.7L384.3 185.4L384.1 186.2L383.0 185.4L382.4 185.7L380.2 184.9L379.8 185.4L378.2 185.4L378.3 183.6L379.2 181.8L376.4 181.3L375.4 180.6L375.3 179.5L374.9 179.0L375.2 177.3L374.7 174.5L375.9 174.5L376.3 173.8L376.8 171.5L376.4 170.5L376.7 170.0L378.3 170.0L378.7 170.5L380.0 169.3L379.5 168.3L379.3 166.8L380.8 167.3L382.0 166.8L382.0 167.8L384.2 168.3L384.1 169.3L386.2 168.8L387.1 168.0L389.3 169.0Z"/>
<path fill="#fdae6b" d="M392.7 176.5L391.8 175.0L391.9 174.0L391.2 172.8L390.5 171.8L391.0 171.3L390.3 169.8L391.6 169.0L394.6 168.0L396.8 167.0L398.8 167.5L399.1 168.3L401.0 168.3L403.4 168.5L406.9 168.5L407.9 168.8L408.6 169.5L408.7 170.5L409.4 171.5L409.6 172.5L408.5 173.0L409.3 174.3L409.4 175.3L410.7 177.5L410.6 178.3L409.7 178.5L408.1 180.6L408.9 181.8L408.4 181.6L406.3 180.6L404.9 181.1L403.9 180.8L402.8 181.3L401.7 180.3L400.9 180.8L399.8 179.3L398.1 179.3L398.0 178.3L396.6 178.0L396.3 178.8L395.2 178.3L395.2 177.5L393.8 177.3Z"/>
<path fill="#fdae6b" d="M375.4 180.6L376.4 181.3L379.2 181.8L378.3 183.6L378.2 185.4L377.6 185.9L376.5 185.7L376.8 186.2L375.2 187.7L375.2 188.7L376.2 188.5L376.9 189.5L376.9 190.3L377.6 191.3L376.8 192.0L377.4 193.8L378.5 194.4L378.3 195.4L376.5 196.9L372.5 196.2L369.4 196.9L369.2 198.5L366.7 199.0L364.4 197.7L363.5 198.2L359.8 197.2L358.9 196.2L360.0 194.6L360.4 189.5L358.4 186.7L356.8 185.4L353.8 184.4L353.6 182.6L356.2 182.1L359.7 182.9L359.1 179.8L360.9 181.1L365.5 179.0L366.1 177.0L367.9 176.5L368.3 177.3L369.1 177.3L370.1 178.3L371.5 179.5L372.5 179.3L374.4 180.6L374.8 180.8ZM381.1 198.2L382.6 197.2L383.1 199.3L382.3 201.3L381.4 200.8L380.7 199.0Z"/>
<path fill="#fdd0a2" d="M344.0 200.0L344.0 198.2L343.2 197.2L346.2 195.4L348.7 195.7L351.6 195.7L353.9 196.2L355.6 195.9L358.9 196.2L359.8 197.2L363.5 198.2L364.4 197.7L366.7 199.0L369.2 198.5L369.2 200.0L367.3 201.9L364.6 202.4L364.4 203.1L363.1 204.7L362.3 206.8L363.1 208.3L361.8 209.4L361.4 211.2L359.9 211.7L358.4 213.5L355.6 213.5L353.4 213.5L352.1 214.6L351.2 215.6L350.1 215.4L349.5 214.3L348.9 213.0L346.7 212.5L346.8 211.7L347.4 210.7L347.9 209.9L347.0 209.1L347.7 207.6L346.9 206.0L347.8 205.7L348.0 204.4L348.3 204.2L348.3 202.1L349.4 201.3L348.8 200.0L347.5 200.0L347.3 200.3L346.1 200.3L345.5 199.0L344.6 199.5Z"/>
<path fill="#fee6ce" d="M344.0 200.0L344.6 199.5L345.5 199.0L346.1 200.3L347.3 200.3L347.5 200.0L348.8 200.0L349.4 201.3L348.3 202.1L348.3 204.2L348.0 204.4L347.8 205.7L346.9 206.0L347.7 207.6L347.0 209.1L347.9 209.9L347.4 210.7L346.8 211.7L346.7 212.5L345.9 213.3L344.8 212.8L343.7 213.0L344.2 210.9L344.0 209.4L343.0 209.1L342.6 208.3L342.9 206.5L343.7 205.5L343.8 204.4L344.3 202.9L344.3 201.9L343.9 201.1Z"/>
<path fill="#fdae6b" d="M351.9 167.8L350.8 169.5L349.3 169.0L348.2 169.0L348.6 167.8L348.3 166.6L350.0 166.3ZM357.3 158.0L355.2 160.5L357.1 160.2L359.1 160.2L358.7 162.2L357.0 164.4L358.9 164.6L359.1 164.9L360.8 167.8L362.1 168.0L363.3 171.0L363.9 172.0L366.2 172.5L366.1 174.0L365.1 174.8L365.7 176.0L364.1 177.3L361.3 177.3L357.9 178.0L356.9 177.5L355.7 178.8L353.9 178.5L352.5 179.3L351.3 178.8L354.4 176.3L356.2 175.8L353.0 175.3L352.4 174.3L354.6 173.5L353.5 172.3L353.9 170.5L356.9 170.8L357.3 169.3L355.9 167.8L353.6 167.3L353.1 166.6L353.9 165.6L353.3 164.9L352.1 166.1L352.2 163.6L351.3 162.4L352.0 160.0L353.6 158.0L355.1 158.0Z"/>
<path fill="#fee6ce" d="M350.8 169.5L351.2 171.3L349.5 173.5L345.9 175.0L343.1 174.8L344.9 172.0L344.0 169.5L346.9 167.5L348.3 166.6L348.6 167.8L348.2 169.0L349.3 169.0Z"/>
<path fill="#fee6ce" d="M337.9 139.5L337.4 141.1L339.1 142.7L336.6 144.3L331.3 146.0L329.6 146.4L327.3 146.2L322.5 145.3L324.4 144.3L320.8 143.1L324.0 142.7L324.1 142.0L320.6 141.6L321.9 140.0L324.7 139.8L327.1 141.3L329.9 140.0L332.0 140.7L335.0 139.5Z"/>
<path fill="#fdae6b" d="M396.1 209.6L395.6 211.7L395.9 212.5L395.5 213.8L393.7 212.8L392.6 212.5L389.6 211.2L389.9 209.9L392.3 210.2L394.6 209.9ZM382.3 201.9L383.7 203.7L383.6 207.0L382.5 207.0L381.7 207.8L380.8 207.0L380.7 203.9L380.2 202.4L381.3 202.6ZM388.3 187.4L391.2 188.2L391.1 189.5L391.5 190.5L389.9 190.3L388.3 191.0L388.6 192.3L388.4 193.1L389.1 194.4L391.0 195.7L392.2 197.7L394.7 199.8L396.3 199.8L397.0 200.6L396.4 201.1L398.4 201.9L399.9 202.6L401.9 203.9L402.2 204.4L401.9 205.5L400.5 204.2L398.8 203.9L397.8 205.5L399.6 206.5L399.4 207.8L398.4 208.1L397.5 210.2L396.6 210.4L396.6 209.6L396.9 208.1L397.3 207.6L396.4 206.3L395.7 204.9L394.8 204.4L394.1 203.4L392.8 202.9L391.6 201.9L390.1 201.6L388.4 200.6L386.4 198.8L384.9 197.5L384.1 194.9L383.1 194.6L381.4 193.6L380.4 194.1L379.3 195.1L378.3 195.4L378.5 194.4L377.4 193.8L377.6 191.3L376.9 190.3L376.9 189.5L377.9 190.0L378.9 190.0L379.9 189.0L380.4 189.5L381.4 189.5L381.8 188.5L383.2 188.7L384.2 188.2L384.1 187.2L385.4 187.4L385.8 187.2L387.8 186.7Z"/>
<path fill="#fee6ce" d="M382.4 185.7L382.5 186.2L382.3 186.7L383.1 187.2L384.1 187.2L384.2 188.2L383.2 188.7L381.8 188.5L381.4 189.5L380.4 189.5L379.9 189.0L378.9 190.0L377.9 190.0L376.9 189.5L376.2 188.5L375.2 188.7L375.2 187.7L376.8 186.2L376.5 185.7L377.6 185.9L378.2 185.4L379.8 185.4L380.2 184.9Z"/>
<path fill="#fee6ce" d="M397.4 184.1L397.3 185.2L396.0 185.2L396.5 185.7L396.0 187.2L395.6 187.7L393.8 187.7L392.8 188.5L391.2 188.2L388.3 187.4L387.8 186.7L385.8 187.2L385.4 187.4L384.1 187.2L383.1 187.2L382.3 186.7L382.5 186.2L382.4 185.7L383.0 185.4L384.1 186.2L384.3 185.4L386.1 185.7L387.5 185.2L388.5 185.2L389.2 185.7L389.3 185.4L389.0 183.6L389.6 183.4L390.3 182.1L391.8 182.9L392.9 181.8L393.7 181.8L395.2 182.6L396.2 182.3L397.3 182.9L397.1 183.1Z"/>
<path fill="#fee6ce" d="M397.3 182.9L396.2 182.3L395.2 182.6L393.7 181.8L392.9 181.8L391.8 182.9L390.3 182.1L389.1 181.1L388.0 180.6L387.7 179.3L387.3 178.5L388.8 178.0L389.4 177.5L390.9 177.0L391.3 176.5L391.9 176.8L392.7 176.5L393.8 177.3L395.2 177.5L395.2 178.3L396.3 178.8L396.6 178.0L398.0 178.3L398.1 179.3L399.8 179.3L400.9 180.6L400.3 180.6L399.9 181.1L399.5 181.1L399.4 181.8L399.0 181.8L399.0 182.1L398.2 182.3L397.4 182.3Z"/>
<path fill="#fee6ce" d="M408.4 181.6L407.9 182.3L407.6 183.4L407.2 183.6L404.9 182.9L404.3 182.9L403.8 183.6L403.0 183.9L402.8 183.6L401.8 184.1L401.0 184.1L400.9 184.6L399.3 184.9L398.4 184.6L397.4 184.1L397.1 183.1L397.3 182.9L397.4 182.3L398.2 182.3L399.0 182.1L399.0 181.8L399.4 181.8L399.5 181.1L399.9 181.1L400.3 180.6L400.9 180.6L401.7 180.3L402.8 181.3L403.9 180.8L404.9 181.1L406.3 180.6Z"/>
<path fill="#fee6ce" d="M407.6 183.4L408.7 183.9L409.0 184.6L407.8 185.2L407.0 186.9L406.0 188.7L404.4 189.2L403.1 189.0L401.6 189.7L401.0 190.0L399.1 189.5L397.5 188.5L396.9 188.2L396.4 187.4L396.0 187.2L396.5 185.7L396.0 185.2L397.3 185.2L397.4 184.1L398.4 184.6L399.3 184.9L400.9 184.6L401.0 184.1L401.8 184.1L402.8 183.6L403.0 183.9L403.8 183.6L404.3 182.9L404.9 182.9L407.2 183.6Z"/>
<path fill="#fee6ce" d="M391.2 188.2L392.8 188.5L393.8 187.7L395.6 187.7L396.0 187.2L396.4 187.4L396.9 188.2L395.3 189.0L395.2 190.0L394.4 190.3L394.4 190.8L393.6 190.8L392.2 190.8L391.5 190.5L391.1 189.5Z"/>
<path fill="#fee6ce" d="M401.6 189.7L402.3 190.8L403.0 191.5L402.2 192.3L401.3 191.8L399.9 191.8L398.0 191.5L397.0 191.5L396.6 192.3L395.9 191.5L395.6 192.6L397.2 194.6L399.0 196.2L401.9 198.2L401.7 198.5L399.5 197.7L398.2 196.7L396.3 195.9L394.5 194.1L394.9 193.8L393.8 192.8L393.7 191.8L392.4 191.5L391.7 192.6L391.2 191.8L391.1 190.8L391.5 190.5L392.2 190.8L393.6 190.8L394.4 190.8L394.4 190.3L395.2 190.0L395.3 189.0L396.9 188.2L397.5 188.5L399.1 189.5L401.0 190.0Z"/>
<path fill="#fee6ce" d="M402.2 192.3L403.0 192.3L402.5 193.6L403.7 194.6L403.5 195.7L402.9 195.9L402.5 196.2L402.0 197.2L401.7 198.5L401.9 198.2L399.0 196.2L397.2 194.6L395.6 192.6L395.9 191.5L396.6 192.3L397.0 191.5L398.0 191.5L399.9 191.8L401.3 191.8Z"/>
<path fill="#fee6ce" d="M406.5 196.4L405.9 196.7L405.8 197.5L405.4 197.5L405.0 198.2L404.4 198.5L402.9 195.9L403.5 195.7L403.7 194.6L402.5 193.6L403.0 192.3L402.2 192.3L403.0 191.5L402.3 190.8L401.6 189.7L403.1 189.0L404.4 189.2L405.7 190.3L406.0 191.0L407.3 191.5L407.6 192.6L408.7 193.3L409.5 192.8L410.1 194.1L409.5 194.6L409.8 195.7L411.0 196.7L410.2 197.5L409.9 198.2L410.1 198.8L409.9 199.0L408.9 199.0L408.3 199.3L408.0 199.0L406.5 196.4Z"/>
<path fill="#fee6ce" d="M405.9 196.7L408.0 199.0L408.3 199.3L407.7 199.5L406.7 200.0L406.0 199.3L405.0 198.2L405.4 197.5L405.8 197.5Z"/>
<path fill="#80b6c1" d="M404.4 198.5L405.0 198.2L405.0 198.2L404.1 200.0L403.7 200.0L403.0 199.5L401.9 198.2L402.0 197.2L402.5 196.2L402.9 195.9L402.9 195.9L403.8 196.7L405.4 197.5L405.0 198.2Z"/>
<path fill="#fee6ce" d="M406.4 202.1L406.1 201.1L406.3 200.0L406.0 199.3L405.0 198.2L404.1 200.0L403.8 200.6L404.1 202.4L404.1 204.2L403.9 204.9L405.5 205.7L405.9 206.0L406.9 204.7L407.2 203.9L407.4 203.4L407.4 202.9Z"/>
<path fill="#fee6ce" d="M406.4 202.1L407.4 202.9L408.8 202.6L409.4 201.9L410.7 202.1L411.0 201.6L410.4 199.8L409.9 199.0L408.9 199.0L408.3 199.3L407.7 199.5L406.7 200.0L406.1 201.1Z"/>
<path fill="#fee6ce" d="M405.9 206.0L406.9 207.6L408.1 209.4L409.7 213.3L411.5 214.3L412.8 214.3L412.0 212.0L413.3 211.7L411.9 210.7L414.4 209.6L410.9 204.2L413.7 205.1L414.8 204.7L413.1 203.1L414.5 202.6L416.6 202.6L418.2 202.9L419.0 200.8L417.9 200.3L416.1 201.9L414.5 200.8L412.9 201.6L411.3 201.6L411.0 201.6L410.7 202.1L409.4 201.9L408.8 202.6L407.4 202.9L407.4 203.4L406.9 204.7ZM420.0 217.2L419.9 218.0L416.7 218.2L416.6 217.7L414.0 217.2L414.3 216.1L415.4 216.9L417.2 216.9L418.9 216.9Z"/>
<path fill="#fee6ce" d="M410.1 194.1L410.6 195.1L411.4 194.9L413.1 195.4L416.2 195.4L417.2 194.9L419.4 194.1L421.2 195.1L422.5 195.4L421.4 196.4L421.0 198.2L421.8 199.8L419.9 199.5L417.9 200.3L418.0 201.6L416.1 201.9L414.5 200.8L412.9 201.6L411.3 201.6L411.0 201.6L410.4 199.8L409.9 199.0L410.1 198.8L409.9 198.2L410.2 197.5L411.0 196.7L409.8 195.7L409.5 194.6Z"/>
<path fill="#fee6ce" d="M409.0 184.6L409.7 184.1L411.2 184.4L413.5 185.2L414.1 184.6L415.4 184.4L416.8 183.9L417.4 184.1L418.2 184.9L419.1 185.9L420.4 187.4L420.7 188.5L420.7 189.7L421.0 190.8L422.1 191.3L422.9 190.8L424.0 191.0L424.1 192.0L423.1 192.6L422.5 192.3L422.5 195.4L421.2 195.1L419.4 194.1L417.2 194.9L416.2 195.4L413.1 195.4L411.4 194.9L410.6 195.1L410.1 194.1L409.5 192.8L408.7 193.3L407.6 192.6L407.3 191.5L406.0 191.0L405.7 190.3L404.4 189.2L406.0 188.7L407.0 186.9L407.8 185.2Z"/>
<path fill="#fee6ce" d="M416.8 183.9L417.3 183.4L418.5 183.1L420.2 183.9L421.1 184.1L422.0 184.9L422.1 185.7L422.8 186.2L423.4 187.2L424.1 187.7L424.4 188.5L423.9 188.2L423.6 188.5L422.8 188.5L422.5 188.2L422.2 188.7L421.0 190.8L420.7 189.7L420.7 188.5L420.4 187.4L419.1 185.9L418.2 184.9L417.4 184.1Z"/>
<path fill="#fdd0a2" d="M425.6 174.0L426.4 174.0L426.7 173.5L427.3 173.8L429.4 173.5L430.9 174.8L430.4 175.3L430.7 176.0L432.4 176.3L433.4 177.3L433.5 177.8L436.1 178.8L437.6 178.3L439.1 179.5L440.3 179.5L443.4 180.3L443.6 181.1L443.0 182.3L443.7 183.9L443.5 184.6L441.7 184.9L440.9 185.7L440.9 186.7L439.3 186.9L438.2 187.7L436.2 188.0L434.7 188.7L435.0 190.3L436.1 190.8L438.1 190.8L437.9 191.8L435.7 192.3L433.2 193.6L431.9 193.1L432.2 192.0L430.0 191.3L430.1 190.8L432.0 189.7L431.3 189.2L427.9 188.7L427.8 187.7L425.7 188.0L425.4 189.5L424.0 191.3L422.9 190.8L422.1 191.3L421.0 190.8L422.2 188.7L422.5 188.2L422.8 188.5L423.6 188.5L423.9 188.2L424.4 188.5L424.1 187.7L423.4 187.2L422.8 186.2L422.1 185.7L422.0 184.9L421.1 184.1L420.2 183.9L418.5 183.1L417.3 183.4L416.8 183.9L415.4 184.4L414.1 184.6L413.5 185.2L411.2 184.4L409.7 184.1L409.0 184.6L408.7 183.9L407.6 183.4L407.9 182.3L408.4 181.6L408.9 181.8L408.1 180.6L409.7 178.5L410.6 178.3L410.7 177.5L409.4 175.3L410.4 175.3L411.5 174.5L412.8 174.5L414.9 174.8L417.3 175.3L418.7 175.3L419.6 175.8L420.3 175.3L421.0 175.8L422.7 175.8L423.6 176.0L423.3 174.8L423.8 174.3L425.6 174.0Z"/>
<path fill="#fee6ce" d="M408.6 169.5L410.5 169.5L412.3 168.5L412.7 167.3L414.1 166.3L413.7 165.3L414.8 164.9L416.7 163.9L418.7 164.4L419.2 165.1L420.1 164.9L422.1 165.3L422.4 166.6L422.3 167.3L423.0 168.5L424.5 169.3L426.0 170.3L426.7 170.8L426.1 171.5L424.5 171.3L424.1 171.5L424.7 172.5L425.6 174.0L423.8 174.3L423.3 174.8L423.6 176.0L422.7 175.8L421.0 175.8L420.3 175.3L419.6 175.8L418.7 175.3L417.3 175.3L414.9 174.8L412.8 174.5L411.5 174.5L410.4 175.3L409.4 175.3L409.3 174.3L408.5 173.0L409.6 172.5L409.4 171.5L408.7 170.5Z"/>
<path fill="#fee6ce" d="M413.7 165.3L414.1 166.3L412.7 167.3L412.3 168.5L410.5 169.5L408.6 169.5L407.9 168.8L406.9 168.5L406.8 167.8L406.9 167.0L405.9 166.8L403.9 166.3L403.2 164.4L405.2 163.6L408.4 163.6L410.3 163.4L411.9 164.1L413.7 165.3Z"/>
<path fill="#fee6ce" d="M403.2 164.4L402.9 162.4L403.6 161.0L405.2 160.0L407.0 161.9L408.5 161.9L408.6 160.0L410.2 159.5L411.0 160.0L412.8 160.7L414.4 160.7L415.4 161.4L415.8 162.4L416.7 163.9L414.8 164.9L413.7 165.3L411.9 164.1L410.3 163.4L408.4 163.6L405.2 163.6Z"/>
<path fill="#fee6ce" d="M408.6 160.0L408.5 158.5L408.0 158.8L406.6 158.0L406.2 156.6L408.4 155.9L410.8 155.6L412.7 156.1L414.7 155.9L415.0 156.3L414.0 157.8L415.0 160.0L414.4 160.7L412.8 160.7L411.0 160.0L410.2 159.5Z"/>
<path fill="#fdd0a2" d="M376.4 170.5L376.8 171.5L376.3 173.8L375.9 174.5L374.7 174.5L375.2 177.3L374.0 176.8L372.7 175.5L370.8 176.0L370.4 175.3L372.1 171.5L374.8 170.5Z"/>
<path fill="#fdd0a2" d="M374.9 179.0L374.4 180.6L372.5 179.3L371.5 179.5L370.1 178.3L369.1 177.3L368.3 177.3L367.9 176.5L369.4 176.0L370.8 176.0L372.7 175.5L374.0 176.8L375.2 177.3Z"/>
<path fill="#fee6ce" d="M374.9 179.0L375.3 179.5L375.4 180.6L374.8 180.8L374.4 180.6Z"/>
<path fill="#fee6ce" d="M436.8 217.8L437.9 216.1L434.3 216.9L433.1 217.7L434.1 219.0L436.7 218.1Z"/>
<path fill="#fd8d3c" d="M440.8 201.6L443.9 202.4L446.4 202.1L448.3 202.4L450.6 201.1L452.7 200.8L455.1 202.1L455.5 204.2L457.3 204.9L458.3 205.7L456.9 206.5L458.1 209.4L457.8 210.2L459.4 212.2L458.4 212.8L457.4 212.0L455.0 211.7L454.0 212.2L451.7 212.5L450.6 212.5L448.2 213.5L446.4 213.5L445.3 213.0L443.0 213.8L442.3 214.6L441.3 215.8L437.8 213.3L436.5 214.8L433.3 215.1L431.4 213.8L429.0 213.5L428.6 214.6L427.2 215.1L424.9 213.5L422.5 213.5L420.9 210.9L419.3 209.6L420.2 207.6L418.7 206.3L420.8 203.9L424.0 203.7L424.6 201.9L428.6 202.1L430.9 200.6L433.4 199.8L436.9 199.8L440.8 201.6ZM418.0 203.4L418.2 202.9L419.0 200.8L417.9 200.3L419.9 199.5L421.8 199.8L422.1 200.8L424.1 201.6L421.3 202.4L419.0 204.4Z"/>
<path fill="#8c2d04" d="M619.0 179.8L623.1 180.8L626.7 182.6L629.0 184.9L632.1 184.9L633.2 183.9L635.9 183.1L636.5 185.4L636.4 186.4L637.7 189.2L638.0 191.8L635.2 191.3L633.8 192.0L635.8 194.4L637.3 197.5L636.2 197.5L637.0 198.8L634.8 197.2L634.9 198.8L632.3 199.8L633.3 201.1L631.4 201.1L630.1 200.3L629.7 202.1L628.1 203.4L627.4 205.2L624.7 206.0L623.5 207.0L621.7 207.8L622.2 206.5L621.3 205.5L622.2 203.9L620.2 202.6L619.0 203.4L617.4 205.2L616.8 206.8L614.8 207.0L614.3 208.3L616.2 209.9L618.2 210.4L618.8 211.7L620.7 212.2L622.3 210.4L624.7 211.5L626.2 211.5L627.1 213.0L624.3 213.5L624.0 215.1L622.6 216.4L622.3 218.2L625.0 219.5L626.8 222.1L629.0 224.5L631.3 226.6L632.1 228.7L630.9 229.2L632.0 230.8L633.5 231.6L633.7 233.6L633.8 235.7L632.6 236.0L631.7 238.6L630.9 242.3L629.7 245.4L627.0 247.7L624.2 249.8L621.8 250.1L620.7 251.4L619.6 250.6L618.5 251.7L615.5 253.0L613.4 253.5L613.0 256.4L611.9 256.4L610.8 254.5L611.3 253.5L608.0 252.7L607.2 253.0L604.6 252.5L603.5 251.4L603.5 249.8L601.4 249.3L600.0 248.3L598.5 249.8L596.3 250.1L594.5 250.1L593.5 250.6L592.4 251.1L593.1 254.0L592.0 254.0L591.7 253.5L591.5 252.5L589.8 253.0L588.8 252.7L586.9 251.7L587.2 249.6L585.8 249.1L584.9 246.4L582.5 247.0L582.2 243.8L584.0 241.7L583.5 239.7L583.0 237.6L581.8 237.0L580.8 235.5L579.4 235.5L576.9 235.2L577.6 234.2L576.1 232.3L574.8 233.6L572.9 232.9L570.6 234.7L569.0 236.5L567.3 236.8L566.3 236.3L564.9 236.0L563.2 235.5L562.2 236.3L561.1 238.1L560.4 236.0L559.2 236.5L556.7 236.3L553.9 235.7L551.9 234.7L550.0 234.2L549.1 232.9L547.7 232.3L545.2 230.8L543.2 230.0L542.4 230.5L538.9 228.7L536.3 227.1L535.2 224.2L536.8 224.5L536.5 223.2L535.3 221.9L535.0 219.8L531.8 216.7L528.0 215.6L526.8 213.5L525.0 212.5L524.3 211.7L523.4 210.2L523.4 209.1L521.9 208.6L521.1 208.9L520.1 206.5L520.5 205.7L519.9 205.2L521.6 203.9L522.9 203.4L525.2 203.9L525.5 202.1L528.1 201.9L528.4 200.8L531.3 199.5L531.5 199.0L530.7 197.5L531.9 196.7L528.4 192.3L532.0 191.3L533.0 190.8L532.5 186.2L536.9 186.9L537.3 185.7L536.4 183.1L538.0 183.1L538.9 181.3L539.5 181.1L540.8 182.9L543.2 184.1L546.5 185.2L548.8 187.2L549.4 190.3L550.5 191.3L553.2 191.8L556.3 192.0L559.4 193.6L560.9 194.1L562.9 196.4L564.7 198.0L567.2 198.0L571.6 198.5L574.1 198.0L576.4 198.5L580.3 200.0L582.8 200.0L584.2 200.8L585.9 199.5L588.8 198.5L591.9 198.5L593.9 197.5L594.7 196.2L595.8 195.4L595.1 194.4L593.7 193.3L594.2 191.8L595.4 192.0L597.9 192.6L599.2 191.3L601.7 190.3L602.1 188.5L603.1 187.7L606.0 187.4L607.8 187.7L607.5 186.9L604.6 185.2L602.4 184.1L601.3 185.2L599.0 184.6L598.1 185.2L597.1 184.1L597.0 181.6L596.8 179.5L599.8 180.6L601.6 179.0L600.7 177.8L600.7 175.3L601.0 174.3L600.1 173.0L598.5 172.3L599.2 171.0L601.3 170.8L603.9 170.5L607.4 171.3L609.7 172.3L613.0 174.8L614.4 175.8L616.5 177.5ZM613.4 260.5L611.8 261.9L609.9 261.1L609.3 258.7L610.3 257.7L612.6 256.9L614.0 256.9L614.6 257.9L613.9 259.0Z"/>
<path fill="#fee6ce" d="M539.5 181.1L541.3 180.6L544.1 178.5L546.4 177.3L548.7 178.0L550.6 178.0L552.8 179.3L554.8 179.3L558.2 180.1L559.0 178.3L557.3 176.8L558.0 174.3L560.7 175.3L562.7 175.5L565.4 176.0L567.0 178.0L570.4 179.0L571.9 178.5L574.3 178.3L576.5 178.5L579.3 179.8L581.2 181.1L583.0 181.1L585.9 181.6L587.3 180.8L589.7 180.6L591.7 178.8L593.0 179.0L594.5 179.8L596.8 179.5L597.0 181.6L597.1 184.1L598.1 185.2L599.0 184.6L601.3 185.2L602.4 184.1L604.6 185.2L607.5 186.9L607.8 187.7L606.0 187.4L603.1 187.7L602.1 188.5L601.7 190.3L599.2 191.3L597.9 192.6L595.4 192.0L594.2 191.8L593.7 193.3L595.1 194.4L595.8 195.4L594.7 196.2L593.9 197.5L591.9 198.5L588.8 198.5L585.9 199.5L584.2 200.8L582.8 200.0L580.3 200.0L576.4 198.5L574.1 198.0L571.6 198.5L567.2 198.0L564.7 198.0L562.9 196.4L560.9 194.1L559.4 193.6L556.3 192.0L553.2 191.8L550.5 191.3L549.4 190.3L548.8 187.2L546.5 185.2L543.2 184.1L540.8 182.9Z"/>
<path fill="#fdae6b" d="M512.0 199.0L510.9 199.5L508.7 201.3L508.2 203.1L507.6 203.1L506.6 202.1L503.8 201.9L502.8 199.8L501.7 199.8L501.1 197.2L498.1 195.4L494.6 195.4L492.2 195.9L489.7 193.6L487.5 192.6L483.9 190.8L483.4 190.5L478.5 192.0L481.1 201.6L480.1 201.6L478.2 199.8L476.5 199.0L474.1 199.5L473.4 200.3L473.1 199.8L473.5 198.8L472.8 197.7L470.1 196.9L468.8 194.6L467.3 193.8L467.2 193.1L469.3 193.3L468.9 191.5L470.6 191.0L472.3 191.3L472.1 189.0L471.2 187.2L469.2 187.4L467.4 186.9L465.3 188.0L463.5 188.5L462.4 188.0L462.3 186.7L460.7 185.2L459.1 185.2L457.0 183.4L457.5 181.3L457.0 180.8L457.7 178.0L460.3 179.5L460.0 177.8L463.3 175.0L466.3 175.0L471.2 176.8L473.9 177.8L475.8 176.8L478.9 176.5L481.8 178.0L482.1 177.3L484.9 177.3L485.1 176.0L481.2 174.3L482.6 173.3L482.0 172.5L483.7 171.8L481.6 170.0L482.1 169.3L489.1 168.3L489.9 167.8L494.3 166.8L495.6 165.8L499.3 166.3L501.1 169.0L502.7 168.3L505.6 169.3L506.0 170.5L508.0 170.5L511.7 168.0L511.2 168.8L514.7 170.8L522.0 177.0L522.6 175.8L525.9 177.3L528.5 176.5L529.8 177.0L531.5 178.5L533.2 179.0L534.5 180.1L537.0 179.8L538.9 181.3L538.0 183.1L536.4 183.1L537.3 185.7L536.9 186.9L532.5 186.2L533.0 190.8L532.0 191.3L528.4 192.3L531.9 196.7L530.7 197.5L531.5 199.0L529.9 198.5L528.4 197.5L525.4 197.2L521.9 197.2L521.1 197.5L517.8 196.4L516.7 196.9L516.2 198.5L515.8 199.3L513.2 197.7L512.1 198.0Z"/>
<path fill="#fdd0a2" d="M506.0 211.7L505.6 210.2L502.6 209.1L500.1 207.8L498.3 206.5L495.5 204.7L493.7 202.1L492.8 201.6L490.7 201.9L489.7 201.3L489.0 199.3L485.6 197.7L484.3 199.3L482.7 200.3L483.5 201.6L481.1 201.6L478.5 192.0L483.4 190.5L483.9 190.8L487.5 192.6L489.7 193.6L492.2 195.9L494.6 195.4L498.1 195.4L501.1 197.2L501.7 199.8L502.8 199.8L503.8 201.9L506.6 202.1L507.6 203.1L508.2 203.1L508.7 201.3L510.9 199.5L512.0 199.0L512.7 199.3L511.4 201.1L513.4 202.1L514.6 201.3L517.6 202.6L515.5 204.7L513.7 204.4L512.9 204.4L512.4 203.7L512.4 202.4L509.7 203.1L509.6 204.7L508.9 206.3L507.1 206.0L506.8 207.3L508.7 207.8L509.6 209.6L509.0 212.5L507.3 211.7Z"/>
<path fill="#fee6ce" d="M495.6 216.1L494.9 214.1L493.4 214.1L490.3 211.7L488.5 211.5L485.9 210.2L484.3 209.9L483.6 210.4L482.0 210.2L480.8 211.7L479.0 212.2L478.2 210.4L478.1 207.6L476.2 206.8L476.5 204.9L475.0 204.9L474.8 202.6L477.1 203.4L478.6 202.4L476.7 200.8L475.8 199.5L474.2 200.0L474.5 202.1L473.4 200.3L474.1 199.5L476.5 199.0L478.2 199.8L480.1 201.6L481.1 201.6L483.5 201.6L482.7 200.3L484.3 199.3L485.6 197.7L489.0 199.3L489.7 201.3L490.7 201.9L492.8 201.6L493.7 202.1L495.5 204.7L498.3 206.5L500.1 207.8L502.6 209.1L505.6 210.2L506.0 211.7L505.4 211.7L504.1 210.9L504.1 212.0L502.3 212.5L502.4 214.6L501.5 215.4L499.8 215.6L499.7 216.9L498.0 217.2Z"/>
<path fill="#fee6ce" d="M512.0 199.0L512.1 198.0L513.2 197.7L517.1 198.5L516.7 196.9L517.8 196.4L521.1 197.5L521.9 197.2L525.4 197.2L528.4 197.5L529.9 198.5L531.5 199.0L531.3 199.5L528.4 200.8L528.1 201.9L525.5 202.1L525.2 203.9L522.9 203.4L521.6 203.9L519.9 205.2L520.5 205.7L520.1 206.5L516.1 206.8L513.1 206.0L511.0 206.3L510.8 204.7L513.1 205.2L513.7 204.4L515.5 204.7L517.6 202.6L514.6 201.3L513.4 202.1L511.4 201.1L512.7 199.3Z"/>
<path fill="#fee6ce" d="M524.3 211.7L521.9 211.7L520.6 211.5L519.4 212.8L518.6 213.0L517.9 213.5L516.8 212.5L516.4 210.4L515.7 210.2L515.7 209.4L514.5 208.9L513.9 209.9L514.0 210.9L513.6 211.2L512.3 211.2L512.0 212.2L511.2 212.0L509.7 212.8L509.0 212.5L509.6 209.6L508.7 207.8L506.8 207.3L507.1 206.0L508.9 206.3L509.6 204.7L509.7 203.1L512.4 202.4L512.4 203.7L512.9 204.4L513.7 204.4L513.1 205.2L510.8 204.7L511.0 206.3L513.1 206.0L516.1 206.8L520.1 206.5L521.1 208.9L521.9 208.6L523.4 209.1L523.4 210.2Z"/>
<path fill="#fee6ce" d="M495.6 216.1L498.0 217.2L499.7 216.9L499.8 215.6L501.5 215.4L502.4 214.6L502.3 212.5L504.1 212.0L504.1 210.9L505.4 211.7L506.0 211.7L507.3 211.7L509.0 212.5L509.7 212.8L511.2 212.0L512.0 212.2L512.3 211.2L513.6 211.2L514.0 210.9L513.9 209.9L514.5 208.9L515.7 209.4L515.7 210.2L516.4 210.4L516.8 212.5L517.9 213.5L518.6 213.0L519.4 212.8L520.6 211.5L521.9 211.7L524.3 211.7L525.0 212.5L523.7 212.8L522.8 213.3L520.3 213.5L518.0 214.1L517.2 215.1L518.0 216.1L518.5 217.4L517.7 218.8L518.2 219.8L517.7 220.6L515.5 220.6L516.7 222.1L515.6 222.9L515.0 224.5L515.4 226.1L514.7 226.9L513.9 226.6L512.2 226.9L512.2 227.6L510.4 227.6L509.6 229.2L509.8 231.3L507.1 232.3L505.7 232.1L505.2 232.9L504.0 232.3L501.6 232.9L497.9 231.6L499.5 229.2L498.9 227.4L497.1 227.1L496.7 225.3L495.5 223.2L496.3 221.9L495.1 221.4L495.5 219.5Z"/>
<path fill="#fdd0a2" d="M525.0 212.5L526.8 213.5L528.0 215.6L531.8 216.7L530.4 218.8L528.1 219.3L524.5 218.8L523.6 219.8L525.0 222.1L526.3 223.7L528.3 225.0L526.7 226.6L527.1 228.4L525.7 231.0L524.6 233.6L522.9 236.5L520.1 236.3L518.2 239.1L519.9 240.2L520.4 242.3L521.8 243.6L522.5 245.7L517.6 245.7L516.4 247.5L514.5 247.0L513.6 244.9L511.8 243.0L507.6 243.6L504.1 243.6L500.9 243.8L501.4 241.0L504.3 239.4L504.0 238.3L503.0 237.8L502.4 235.5L500.3 234.4L499.2 232.9L497.9 231.6L501.6 232.9L504.0 232.3L505.2 232.9L505.7 232.1L507.1 232.3L509.8 231.3L509.6 229.2L510.4 227.6L512.2 227.6L512.2 226.9L513.9 226.6L514.7 226.9L515.4 226.1L515.0 224.5L515.6 222.9L516.7 222.1L515.5 220.6L517.7 220.6L518.2 219.8L517.7 218.8L518.5 217.4L518.0 216.1L517.2 215.1L518.0 214.1L520.3 213.5L522.8 213.3L523.7 212.8Z"/>
<path fill="#d94801" d="M531.8 216.7L535.0 219.8L535.3 221.9L536.5 223.2L536.8 224.5L535.2 224.2L536.3 227.1L538.9 228.7L542.4 230.5L541.4 231.8L540.9 234.2L543.3 235.2L545.6 236.5L548.7 237.8L552.0 238.3L553.6 239.7L555.2 239.9L558.0 240.4L560.0 240.4L560.0 239.4L559.2 237.8L559.2 236.5L560.4 236.0L561.1 238.1L561.2 238.6L563.4 239.7L564.8 239.1L566.7 239.4L568.5 239.4L568.3 237.6L567.3 236.8L569.0 236.5L570.6 234.7L572.9 232.9L574.8 233.6L576.1 232.3L577.6 234.2L576.9 235.2L579.4 235.5L579.9 236.5L579.3 237.0L579.7 238.6L578.4 239.9L575.5 239.9L576.1 241.5L575.2 243.6L575.4 244.9L574.6 247.0L572.7 246.4L573.2 249.3L572.8 250.1L573.2 251.1L572.2 251.9L570.2 247.7L569.8 247.7L569.6 249.3L568.3 248.0L568.7 246.4L569.6 246.4L570.4 244.1L569.0 243.8L566.9 243.8L564.6 243.3L564.0 241.5L563.1 241.5L561.1 240.4L560.5 242.0L562.4 243.6L561.2 244.4L560.9 245.4L562.4 246.2L562.1 247.7L563.3 249.6L563.8 251.7L563.8 252.7L562.2 252.7L559.5 253.2L559.8 255.3L558.9 256.6L555.9 258.5L553.6 261.6L552.2 263.2L550.1 265.0L550.2 266.0L549.2 266.8L547.2 267.6L546.1 267.9L545.6 270.0L546.4 273.4L546.7 275.4L546.0 277.8L546.3 282.2L545.0 282.5L544.2 284.6L544.9 285.4L542.9 286.2L542.0 287.7L541.1 288.5L539.0 286.2L537.6 282.5L536.5 279.9L535.8 278.6L534.4 276.2L533.5 272.8L532.9 271.3L530.5 267.6L529.1 262.6L528.1 259.2L527.8 256.1L527.0 253.5L524.0 255.1L522.4 254.8L519.1 251.7L519.9 250.6L519.1 249.8L516.4 247.5L517.6 245.7L522.5 245.7L521.8 243.6L520.4 242.3L519.9 240.2L518.2 239.1L520.1 236.3L522.9 236.5L524.6 233.6L525.7 231.0L527.1 228.4L526.7 226.6L528.3 225.0L526.3 223.7L525.0 222.1L523.6 219.8L524.5 218.8L528.1 219.3L530.4 218.8Z"/>
<path fill="#fee6ce" d="M559.2 236.5L559.2 237.8L560.0 239.4L560.0 240.4L558.0 240.4L555.2 239.9L553.6 239.7L552.0 238.3L548.7 237.8L545.6 236.5L543.3 235.2L540.9 234.2L541.4 231.8L542.4 230.5L543.2 230.0L545.2 230.8L547.7 232.3L549.1 232.9L550.0 234.2L551.9 234.7L553.9 235.7L556.7 236.3Z"/>
<path fill="#fee6ce" d="M564.9 236.0L566.3 236.3L567.3 236.8L568.3 237.6L568.5 239.4L566.7 239.4L564.8 239.1L563.4 239.7L561.2 238.6L561.1 238.1L562.2 236.3L563.2 235.5Z"/>
<path fill="#fee6ce" d="M572.2 251.9L572.5 253.8L571.5 253.2L572.1 255.3L571.2 254.0L570.8 252.7L570.1 251.4L569.0 249.8L566.9 249.8L567.3 250.9L566.9 252.5L565.7 251.9L565.5 252.2L564.8 251.9L563.8 251.7L563.3 249.6L562.1 247.7L562.4 246.2L560.9 245.4L561.2 244.4L562.4 243.6L560.5 242.0L561.1 240.4L563.1 241.5L564.0 241.5L564.6 243.3L566.9 243.8L569.0 243.8L570.4 244.1L569.6 246.4L568.7 246.4L568.3 248.0L569.6 249.3L569.8 247.7L570.2 247.7Z"/>
<path fill="#fee6ce" d="M551.1 289.8L550.8 292.4L549.9 293.2L547.8 293.7L546.8 291.6L546.2 288.0L546.9 283.8L548.6 285.1L549.8 286.9Z"/>
<path fill="#fdd0a2" d="M589.6 256.1L588.3 256.6L587.4 257.7L585.8 257.9L585.1 260.8L584.2 261.3L585.6 263.4L587.3 265.5L588.4 267.1L587.8 269.4L587.2 270.0L587.8 271.3L589.6 273.4L589.9 274.7L590.1 276.0L591.2 278.3L590.1 280.7L589.4 283.5L589.0 281.4L589.5 279.6L588.4 278.1L588.4 275.2L587.4 273.9L586.4 270.7L585.5 267.3L584.3 265.3L582.9 266.6L580.6 268.4L579.2 268.1L577.8 267.6L578.0 264.2L577.2 261.9L575.0 258.7L575.4 257.9L573.9 257.4L572.1 255.3L571.5 253.2L572.5 253.8L572.2 251.9L573.2 251.1L572.8 250.1L573.2 249.3L572.7 246.4L574.6 247.0L575.4 244.9L575.2 243.6L576.1 241.5L575.5 239.9L578.4 239.9L579.7 238.6L579.3 237.0L579.9 236.5L579.4 235.5L580.8 235.5L581.8 237.0L583.0 237.6L583.5 239.7L584.0 241.7L582.2 243.8L582.5 247.0L584.9 246.4L585.8 249.1L587.2 249.6L586.9 251.7L588.8 252.7L589.8 253.0L591.5 252.5L591.7 253.5L589.9 255.1Z"/>
<path fill="#fdae6b" d="M603.4 272.0L601.3 271.8L598.4 272.3L597.0 274.4L598.0 277.5L595.8 276.5L593.8 276.5L594.0 274.4L592.0 274.4L592.0 277.3L591.3 281.2L590.8 283.3L590.9 285.4L592.5 285.4L593.5 287.7L594.1 290.1L595.4 291.4L596.8 291.9L598.0 293.2L597.4 294.2L596.0 294.5L595.7 293.2L593.8 292.2L593.3 292.4L592.4 291.6L591.8 290.3L590.6 288.8L589.4 287.5L589.0 289.0L588.7 287.5L588.8 285.9L589.4 283.5L590.1 280.7L591.2 278.3L590.1 276.0L589.9 274.7L589.6 273.4L587.8 271.3L587.2 270.0L587.8 269.4L588.4 267.1L587.3 265.5L585.6 263.4L584.2 261.3L585.1 260.8L585.8 257.9L587.4 257.7L588.3 256.6L589.6 256.1L590.6 256.9L591.1 258.5L592.7 258.5L592.4 261.3L593.0 263.7L595.0 262.1L595.8 262.6L597.1 262.4L597.4 261.6L599.3 261.9L601.2 263.9L601.8 266.6L603.9 268.6L604.0 271.0Z"/>
<path fill="#fee6ce" d="M603.4 272.0L604.0 271.0L603.9 268.6L601.8 266.6L601.2 263.9L599.3 261.9L597.4 261.6L597.1 262.4L595.8 262.6L595.0 262.1L593.0 263.7L592.4 261.3L592.7 258.5L591.1 258.5L590.6 256.9L589.6 256.1L589.9 255.1L591.7 253.5L592.0 254.0L593.1 254.0L592.4 251.1L593.5 250.6L595.2 252.7L596.5 255.1L599.2 255.1L600.5 257.4L599.2 258.2L598.7 259.0L601.6 260.5L605.8 266.0L607.7 267.9L608.6 269.7L608.5 272.3L606.3 271.3L605.4 273.1Z"/>
<path fill="#fee6ce" d="M600.5 281.7L599.4 280.1L598.0 277.5L597.0 274.4L598.4 272.3L601.3 271.8L603.4 272.0L605.4 273.1L606.3 271.3L608.5 272.3L609.1 274.1L609.2 277.3L605.5 279.1L606.6 280.7L604.3 280.9L602.3 282.0Z"/>
<path fill="#fd8d3c" d="M607.2 253.0L604.4 255.3L603.0 257.7L602.8 259.5L604.8 262.4L607.6 265.8L609.9 267.3L611.6 269.4L613.0 274.4L613.3 278.8L611.6 280.7L609.0 282.2L607.4 284.6L604.8 286.9L603.7 285.4L604.3 283.5L602.3 282.0L604.3 280.9L606.6 280.7L605.5 279.1L609.2 277.3L609.1 274.1L608.5 272.3L608.6 269.7L607.7 267.9L605.8 266.0L601.6 260.5L598.7 259.0L599.2 258.2L600.5 257.4L599.2 255.1L596.5 255.1L595.2 252.7L593.5 250.6L594.5 250.1L596.3 250.1L598.5 249.8L600.0 248.3L601.4 249.3L603.5 249.8L603.5 251.4L604.6 252.5Z"/>
<path fill="#fdae6b" d="M595.7 293.2L596.0 294.5L597.4 294.2L598.0 293.2L598.7 293.5L600.2 295.0L601.2 296.6L601.2 298.4L601.0 299.7L601.3 300.5L601.5 302.1L602.5 302.9L603.2 305.2L603.3 306.0L601.7 306.3L599.5 304.2L596.7 302.1L596.4 300.8L595.0 299.2L594.7 296.9L593.8 295.6L593.9 293.7L593.3 292.4L593.8 292.2ZM636.2 297.6L634.7 298.7L632.6 298.2L630.0 298.2L629.2 301.0L628.3 302.1L627.2 305.7L625.4 306.3L623.3 305.5L622.2 305.7L620.8 307.0L619.4 306.8L617.8 307.3L616.2 306.0L615.9 304.2L617.5 305.0L619.4 304.4L619.8 302.3L620.7 301.8L623.4 301.3L625.0 299.2L626.1 297.6L627.3 299.0L627.7 298.2L628.6 298.2L628.8 296.3L629.0 295.3L630.5 293.5L631.5 291.4L632.4 291.4L633.7 292.7L634.0 293.7L635.4 294.5L637.5 295.3L637.4 296.3L635.7 296.3Z"/>
<path fill="#fee6ce" d="M626.1 297.6L627.0 296.6L629.0 295.3L628.8 296.3L628.6 298.2L627.7 298.2L627.3 299.0Z"/>
<path fill="#f16913" d="M634.8 304.7L637.4 307.0L634.7 307.3L634.0 309.1L634.0 311.5L631.9 313.3L631.5 315.9L630.5 319.8L630.3 319.1L627.7 320.1L626.9 318.5L625.3 318.3L624.1 317.5L621.3 318.5L620.4 317.2L618.8 317.2L617.0 317.0L616.9 313.6L615.7 312.8L614.6 310.7L614.4 308.4L614.6 306.0L615.9 304.2L616.2 306.0L617.8 307.3L619.4 306.8L620.8 307.0L622.2 305.7L623.3 305.5L625.4 306.3L627.2 305.7L628.3 302.1L629.2 301.0L630.0 298.2L632.6 298.2L634.7 298.7L633.3 301.0L635.0 303.4ZM603.7 312.3L603.9 314.1L604.8 315.4L606.4 315.7L607.5 317.5L607.0 320.6L606.6 324.8L604.0 324.8L602.3 322.5L599.4 320.4L598.5 318.8L596.7 316.7L595.6 314.9L593.8 311.2L592.0 308.9L591.3 306.8L590.3 304.7L588.2 302.9L587.0 300.8L585.1 299.2L582.7 296.3L582.4 295.0L583.8 295.3L587.5 295.8L589.7 298.2L591.4 300.0L592.8 301.0L594.9 303.9L597.4 303.9L599.3 305.7L600.8 307.8L602.4 309.1L601.5 311.2L602.8 312.3ZM612.7 326.1L612.9 327.2L617.2 327.4L618.0 326.4L622.1 327.4L622.9 329.3L626.3 329.8L628.9 331.3L626.3 332.4L623.9 331.1L621.8 331.3L619.3 331.1L617.3 330.6L614.6 329.5L613.0 329.3L612.0 329.8L607.9 328.7L607.6 327.4L605.5 327.4L607.3 324.8L610.0 325.1L611.8 325.9ZM651.7 305.7L649.9 308.4L648.3 308.9L646.0 308.4L642.3 308.4L640.3 308.9L639.8 310.7L641.8 313.1L643.2 312.0L647.4 311.0L647.3 312.3L646.2 311.8L645.2 313.3L643.1 314.4L645.3 317.8L644.8 318.5L646.8 321.7L646.7 323.2L645.3 323.5L644.4 323.2L645.7 321.2L643.3 322.2L642.9 321.4L643.2 320.4L641.6 318.8L641.9 316.2L640.3 317.0L640.4 320.1L640.3 323.8L638.8 324.3L638.0 323.5L638.8 321.2L638.4 318.5L637.5 318.5L636.8 316.7L637.8 314.9L638.1 313.1L639.3 308.9L639.8 307.8L641.8 306.0L643.7 306.8L646.4 307.0L649.2 307.0L651.5 305.2ZM672.2 312.5L672.8 316.7L675.3 318.3L677.2 315.4L679.8 313.8L681.9 313.8L683.9 314.9L685.5 315.7L688.0 316.2L687.6 324.8L687.0 333.2L685.1 331.1L682.8 330.6L682.3 331.3L679.3 331.3L680.4 329.3L682.0 328.5L681.6 325.6L680.6 323.5L676.3 321.2L674.5 321.2L671.1 318.5L670.4 319.8L669.5 320.1L669.0 319.1L669.1 318.0L667.3 316.7L669.8 315.9L671.4 315.9L671.2 315.1L667.8 315.1L666.9 313.6L664.8 313.1L664.0 311.8L667.2 311.2L668.4 310.4L672.0 311.5ZM657.9 303.7L658.1 305.2L659.5 305.5L659.8 306.5L659.6 308.6L658.2 308.1L658.5 310.2L657.6 310.2L656.8 306.8L657.2 304.7ZM661.3 316.7L663.8 317.5L664.4 319.6L662.6 318.3L657.8 318.3L658.3 316.7ZM655.4 319.3L653.8 318.8L653.4 317.8L655.7 317.5L656.1 318.5ZM650.2 332.6L650.5 332.1L648.6 335.8L646.7 336.6L646.5 336.0L646.8 335.3L647.9 333.7ZM640.5 330.8L641.8 331.6L643.4 331.6L645.5 330.6L645.2 331.9L641.7 332.6L638.5 332.4L638.6 331.3ZM634.9 331.3L636.3 331.1L636.7 332.1L634.1 332.6L632.5 332.9L631.1 332.9L632.1 331.6L633.3 331.3L634.0 330.6ZM629.8 331.6L630.7 332.4L629.5 332.6L629.5 332.6ZM628.0 331.3L628.9 331.3L627.7 332.4L626.4 330.8ZM640.4 335.5L639.1 336.3L636.3 334.5L638.4 334.0Z"/>
<path fill="#fdae6b" d="M638.5 261.1L640.0 261.9L640.5 261.1L640.9 261.9L640.8 262.9L641.8 264.7L641.7 266.8L640.5 267.9L640.4 270.0L641.1 272.0L642.5 272.3L643.4 272.0L646.6 273.4L646.5 274.9L647.3 275.4L647.2 276.7L645.2 275.4L644.1 273.9L643.8 274.9L642.0 273.4L640.0 273.9L638.7 273.1L638.9 272.0L639.5 271.5L638.7 270.7L638.6 271.8L637.3 270.2L636.6 269.2L636.2 266.6L637.3 267.6L636.8 263.4L637.1 261.1ZM653.5 287.5L653.9 289.0L654.0 290.6L653.5 292.9L652.4 290.3L651.5 291.6L652.4 293.7L651.8 294.8L648.9 293.2L648.1 291.4L648.7 290.1L647.2 289.0L646.6 290.1L645.4 289.8L643.9 291.4L643.4 290.6L644.2 288.5L645.5 287.7L646.8 286.7L647.6 288.0L649.4 287.2L649.7 285.9L651.4 285.9L651.0 283.8L652.9 285.1L653.2 286.4ZM649.2 276.7L651.5 280.7L649.6 279.9L649.5 283.0L648.0 279.4L647.6 276.5ZM646.3 280.9L645.8 285.1L644.1 283.8L645.2 280.9ZM643.8 279.1L645.1 280.7L643.0 282.2L642.4 278.6ZM637.0 279.6L632.4 287.5L636.1 282.2L637.0 279.6ZM641.0 275.2L640.4 277.3L638.2 274.1Z"/>
<path fill="#f16913" d="M656.7 220.3L657.4 221.1L656.8 222.7L655.6 221.9L654.7 222.4L654.7 224.0L653.0 223.2L652.5 221.9L653.0 220.3L654.5 220.8L654.8 219.5ZM663.6 194.6L664.4 193.6L666.7 196.4L664.3 197.2L664.1 199.8L659.6 198.0L660.3 200.8L658.0 200.8L655.9 198.2L655.8 196.4L658.0 196.2L656.3 192.6L655.5 190.5L659.7 193.3L661.8 194.1ZM665.8 207.0L665.2 209.6L666.7 212.5L667.0 214.6L668.1 215.9L668.0 217.7L665.6 218.8L661.8 219.0L659.9 221.9L658.1 221.1L657.2 219.0L653.5 219.5L651.6 220.8L649.0 220.8L652.1 222.9L652.2 227.1L651.4 228.4L649.9 227.4L649.4 225.0L647.8 224.2L646.1 222.4L648.0 221.6L648.5 220.1L650.1 218.8L650.8 216.9L654.8 216.1L657.4 216.7L657.2 212.0L659.4 213.3L661.3 210.7L661.8 209.6L661.7 206.5L659.4 203.4L659.3 201.9L661.3 201.3L664.7 204.9Z"/>
<path fill="#fd8d3c" d="M637.5 208.6L640.9 211.7L642.3 213.3L643.9 216.4L643.6 217.7L641.9 218.2L640.6 219.3L638.7 219.5L638.0 218.2L637.4 216.1L635.1 213.5L636.6 213.0L634.1 210.9L634.0 210.7L635.1 210.7L635.3 209.4L636.8 209.4L637.5 209.1Z"/>
<path fill="#fee6ce" d="M637.0 198.8L637.7 199.3L636.7 199.0L636.5 200.0L636.3 200.8L637.4 202.6L636.6 203.1L636.5 203.7L636.1 204.4L635.1 204.9L634.3 205.5L634.9 206.8L634.8 207.0L635.8 207.3L637.5 208.6L637.5 209.1L636.8 209.4L635.3 209.4L635.1 210.7L634.0 210.7L634.1 210.9L632.8 210.4L632.7 210.7L632.2 210.9L631.7 210.4L631.3 210.4L630.4 209.9L630.6 208.9L630.7 208.3L630.4 208.1L630.3 206.5L629.9 206.0L628.5 205.7L627.4 205.2L628.1 203.4L629.7 202.1L630.1 200.3L631.4 201.1L633.3 201.1L632.3 199.8L634.9 198.8L634.8 197.2Z"/>
<path fill="url(#hatch)" stroke="#c6c6c6" d="M636.7 245.7L636.2 249.8L635.4 251.9L633.9 249.8L633.3 247.7L634.2 245.4L635.5 243.3L636.8 244.1Z"/>
<path fill="#fd8d3c" d="M479.0 212.2L480.8 211.7L482.0 210.2L483.6 210.4L484.3 209.9L485.9 210.2L488.5 211.5L490.3 211.7L493.4 214.1L494.9 214.1L495.6 216.1L495.5 219.5L495.1 221.4L496.3 221.9L495.5 223.2L496.7 225.3L497.1 227.1L498.9 227.4L499.5 229.2L497.9 231.6L499.2 232.9L500.3 234.4L502.4 235.5L503.0 237.8L504.0 238.3L504.3 239.4L501.4 241.0L500.9 243.8L496.6 243.0L494.0 242.5L491.5 242.3L490.2 238.9L489.0 238.6L487.3 238.9L485.2 240.2L482.4 239.4L480.0 237.3L477.6 236.5L476.0 234.2L473.8 230.8L472.8 231.0L471.1 230.2L470.6 231.3L469.0 229.7L468.9 228.4L468.2 228.4L468.1 226.6L466.7 224.5L463.9 223.2L462.0 220.6L462.2 218.8L463.4 217.7L462.9 216.1L461.2 215.4L459.4 212.2L457.8 210.2L458.1 209.4L456.9 206.5L458.3 205.7L458.9 206.8L460.2 207.8L461.5 208.3L462.3 208.1L464.6 206.3L465.4 206.0L466.2 206.8L465.5 208.1L467.1 209.4L467.7 209.4L468.7 211.2L470.7 211.7L472.5 213.0L475.8 213.5L478.9 212.8Z"/>
<path fill="#fdae6b" d="M461.2 215.4L462.9 216.1L463.4 217.7L462.2 218.8L462.0 220.6L463.9 223.2L466.7 224.5L468.1 226.6L468.2 228.4L468.9 228.4L469.0 229.7L470.6 231.3L469.2 231.0L467.6 230.8L466.4 233.4L462.1 233.1L455.3 227.9L451.8 226.1L449.1 225.3L447.8 222.1L452.3 219.5L452.7 216.4L452.2 214.3L453.2 213.8L454.0 212.2L455.0 211.7L457.4 212.0L458.4 212.8L459.4 212.2Z"/>
<path fill="#fee6ce" d="M441.2 224.0L441.4 223.5L441.3 222.4L441.8 221.1L442.8 220.1L442.2 219.0L441.3 219.0L440.9 216.9L441.1 215.9L441.7 215.4L442.3 214.6L442.1 213.3L443.0 213.8L445.3 213.0L446.4 213.5L448.2 213.5L450.6 212.5L451.7 212.5L454.0 212.2L453.2 213.8L452.2 214.3L452.7 216.4L452.3 219.5L447.8 222.1L443.7 225.0Z"/>
<path fill="#fee6ce" d="M440.9 224.8L441.2 224.0L443.7 225.0L447.8 222.1L449.1 225.3L448.7 225.8L444.4 227.1L446.9 229.7L446.3 230.2L446.0 231.0L444.2 231.3L443.9 232.3L443.0 233.1L440.6 232.6L440.3 232.3L441.0 228.2L440.9 227.1L441.0 226.3Z"/>
<path fill="#fee6ce" d="M441.2 224.0L440.9 224.8L440.2 224.5L439.9 226.1L440.4 226.3L440.0 226.9L439.8 227.4L440.9 227.1L441.0 228.2L440.3 232.3L438.6 227.9L439.1 227.1L439.4 225.5L439.7 223.7L439.8 222.9L440.7 222.9L440.8 222.4L441.3 222.4L441.4 223.5Z"/>
<path fill="#fee6ce" d="M440.9 224.8L441.0 226.3L440.9 227.1L439.8 227.4L440.0 226.9L440.4 226.3L439.9 226.1L440.2 224.5Z"/>
<path fill="#fee6ce" d="M441.3 222.4L440.8 222.4L440.7 222.9L439.8 222.9L440.4 220.8L441.3 219.0L442.2 219.0L442.8 220.1L441.8 221.1Z"/>
<path fill="#fd8d3c" d="M460.5 266.8L459.9 265.5L459.2 264.7L459.2 263.7L458.0 262.9L456.5 260.5L455.7 258.5L454.0 256.6L453.1 256.4L451.3 253.8L451.0 251.9L451.1 250.4L449.6 247.5L448.4 246.4L447.2 245.9L446.4 244.4L446.4 243.8L445.6 242.5L444.9 242.0L443.8 239.9L442.3 237.8L441.1 236.0L439.9 236.0L440.3 234.7L440.2 233.6L440.6 232.6L443.0 233.1L443.9 232.3L444.2 231.3L446.0 231.0L446.3 230.2L446.9 229.7L444.4 227.1L448.7 225.8L449.1 225.3L451.8 226.1L455.3 227.9L462.1 233.1L466.4 233.4L468.4 233.6L469.0 234.9L470.5 234.7L471.7 237.0L472.9 237.6L473.4 238.6L475.1 239.7L475.2 240.7L475.1 241.7L475.4 242.5L476.2 243.3L476.7 244.1L477.0 244.6L477.7 245.1L478.4 245.1L478.9 246.2L479.0 246.7L480.1 249.3L487.0 250.6L487.4 250.1L488.7 251.9L487.6 257.2L480.9 259.8L474.4 260.8L472.5 261.9L471.1 264.7L470.0 265.3L469.2 264.2L468.5 264.5L466.2 264.2L465.8 263.9L463.3 263.9L462.6 264.2L461.6 263.4L461.0 264.7L461.3 265.8Z"/>
<path fill="#fee6ce" d="M483.9 265.8L482.3 266.6L482.0 267.9L482.0 268.6L479.8 269.7L476.2 271.0L474.3 272.8L473.1 273.1L472.4 272.8L471.4 273.9L469.8 274.4L468.0 274.7L467.3 274.7L466.8 275.4L466.2 275.4L466.0 276.2L464.8 276.2L464.1 276.5L462.5 276.5L461.8 274.9L461.9 273.4L461.5 272.6L460.9 270.7L460.2 269.7L460.6 269.4L460.3 268.4L460.5 267.9L460.5 266.8L461.3 265.8L461.0 264.7L461.6 263.4L462.6 264.2L463.3 263.9L465.8 263.9L466.2 264.2L468.5 264.5L469.2 264.2L470.0 265.3L471.1 264.7L472.5 261.9L474.4 260.8L480.9 259.8L483.1 264.2Z"/>
<path fill="#fdd0a2" d="M496.1 254.3L495.4 256.1L494.2 255.8L493.9 256.6L493.7 257.9L494.1 259.5L493.9 260.0L492.8 260.0L491.5 260.8L491.3 262.1L490.9 262.6L489.6 262.6L488.7 263.4L488.8 264.5L487.7 265.0L486.3 265.0L485.0 265.8L483.9 265.8L483.1 264.2L480.9 259.8L487.6 257.2L488.7 251.9L487.4 250.1L487.3 249.1L487.9 248.0L487.8 247.0L488.9 246.4L488.4 245.9L488.4 244.4L489.6 244.4L490.6 246.2L492.0 247.0L493.7 247.5L495.0 247.7L496.3 249.3L497.1 250.1L497.8 250.6L497.9 251.1L497.1 252.7L497.0 253.5ZM488.5 241.2L489.1 240.4L489.1 242.3Z"/>
<path fill="#fdae6b" d="M478.9 246.2L479.4 245.9L479.4 246.7L481.2 246.2L483.0 246.2L484.4 246.4L485.8 244.6L487.2 243.0L488.5 241.2L489.1 242.3L489.6 244.4L488.4 244.4L488.4 245.9L488.9 246.4L487.8 247.0L487.9 248.0L487.3 249.1L487.4 250.1L487.0 250.6L480.1 249.3L479.0 246.7Z"/>
<path fill="#fdd0a2" d="M477.0 244.6L476.6 242.8L477.1 241.5L477.7 241.2L478.5 242.0L478.7 243.6L478.4 245.1L477.7 245.1Z"/>
<path fill="#fdd0a2" d="M469.2 231.0L469.8 232.3L469.7 232.9L470.5 234.7L469.0 234.9L468.4 233.6L466.4 233.4L467.6 230.8Z"/>
<path fill="#fee6ce" d="M450.6 201.1L450.6 199.8L449.9 198.2L448.4 197.2L447.1 196.9L446.4 196.2L446.5 195.7L448.3 196.2L451.5 196.7L454.7 198.0L454.9 198.2L456.1 198.0L458.3 198.5L459.2 199.5L460.5 200.0L460.0 200.6L461.3 201.9L461.2 202.1L460.1 202.1L458.3 201.3L458.0 201.9L455.1 202.1L452.7 200.8Z"/>
<path fill="#fee6ce" d="M455.1 202.1L458.0 201.9L458.5 202.4L459.4 202.9L459.1 203.4L460.4 204.4L459.9 205.2L460.9 206.0L462.0 206.3L462.3 208.1L461.5 208.3L460.4 206.8L460.3 206.3L459.5 206.3L458.7 205.7L458.3 205.7L457.3 204.9L455.7 204.2L455.7 203.1Z"/>
<path fill="#fee6ce" d="M460.5 200.0L461.2 200.3L463.0 201.9L463.9 201.9L464.2 201.3L465.2 200.3L466.6 201.6L468.0 203.4L469.2 203.7L469.9 204.2L468.3 204.4L468.2 206.5L468.0 207.6L467.5 208.1L467.7 209.4L467.1 209.4L465.5 208.1L466.2 206.8L465.4 206.0L464.6 206.3L462.3 208.1L462.0 206.3L460.9 206.0L459.9 205.2L460.4 204.4L459.1 203.4L459.4 202.9L458.5 202.4L458.0 201.9L458.3 201.3L460.1 202.1L461.2 202.1L461.3 201.9L460.0 200.6ZM458.7 205.7L459.5 206.3L460.3 206.3L460.4 206.8L461.5 208.3L460.2 207.8L458.3 205.7Z"/>
<path fill="#fee6ce" d="M688.0 316.2L691.9 318.0L696.2 319.6L697.8 320.9L698.9 322.2L699.2 323.8L702.8 325.3L703.4 326.6L701.3 326.9L701.6 328.7L703.5 330.3L704.7 333.2L706.0 333.2L706.0 334.2L707.5 334.7L706.8 335.3L709.2 336.3L708.8 337.1L707.2 337.4L706.8 336.6L704.8 336.3L702.6 335.8L700.9 334.2L699.9 332.6L698.7 330.6L695.8 329.3L693.9 330.0L692.4 330.8L692.5 332.9L690.6 333.7L689.5 333.4L687.0 333.2L687.6 324.8ZM714.7 319.1L715.6 319.8L715.7 321.2L715.0 321.9L714.6 320.4L714.2 319.3L713.3 318.5L712.0 317.2L710.4 316.5L710.9 315.9L712.2 316.7L712.9 317.2L713.8 317.8ZM711.4 324.6L710.2 325.3L708.7 325.9L707.6 325.9L705.8 325.1L704.5 324.3L704.8 323.5L706.8 324.0L708.0 323.8L708.6 322.5L708.8 322.5L708.9 323.8L710.3 323.8L711.1 322.7L712.3 321.9L712.1 320.4L713.5 320.1L713.9 320.6L713.9 322.2L713.1 323.8L711.9 324.0ZM721.7 327.2L721.0 327.4L720.2 326.4L719.2 324.8L718.9 322.7L719.4 322.5L719.5 323.2L720.2 324.0L721.0 325.6L722.0 326.4Z"/>
<path fill="#fee6ce" d="M650.5 332.1L652.4 331.3L654.0 331.3L654.9 331.1L655.6 331.3L654.9 332.1L652.3 333.2L650.4 334.0L650.4 333.2L650.2 332.6Z"/>
<path fill="#fee6ce" d="M735.0 336.8L735.6 337.6L734.0 337.6L733.3 336.0L734.6 336.6ZM732.5 335.3L731.6 335.3L730.0 335.0L729.6 334.5L729.9 333.4L731.5 334.0L732.1 334.5ZM734.4 334.5L733.9 335.0L732.5 332.6L732.2 331.1L732.9 331.1L733.6 333.2ZM730.6 331.1L730.5 331.6L728.8 330.6L727.7 329.8L726.9 328.7L727.4 328.5L728.2 329.3L730.0 330.3ZM725.3 328.5L724.8 328.7L723.9 328.2L723.1 327.2L723.2 326.6L724.5 327.7Z"/>
<path fill="#80b6c1" d="M745.3 352.5L744.6 352.8L744.2 351.7L744.3 350.9ZM744.7 348.3L744.7 350.4L744.1 350.2L743.5 350.4L743.3 349.6L743.7 347.5Z"/>
<path fill="url(#hatch)" stroke="#c6c6c6" d="M737.9 364.5L739.3 366.1L740.1 367.4L739.0 367.9L738.1 367.1L736.8 366.1L735.7 364.5L734.8 362.7L734.5 361.9L735.7 361.9L736.5 363.0L737.4 363.7Z"/>
<path fill="#fee6ce" d="M769.0 354.6L769.5 355.4L768.9 356.9L767.2 357.2L766.1 356.9L766.2 355.6L767.3 354.9L768.2 355.1ZM771.6 353.3L769.9 353.8L769.9 352.8L771.2 352.2L771.8 352.2L773.4 351.5L773.1 352.8Z"/>
<path fill="#fee6ce" d="M729.0 416.2L728.6 417.2L731.1 416.2L730.7 417.2L729.7 418.5L728.2 419.5L725.2 421.6L723.3 422.6L723.1 423.9L721.5 423.9L719.2 424.7L717.2 426.5L713.7 429.1L711.0 430.3L709.5 430.8L707.6 430.8L707.1 430.1L705.0 429.8L705.3 429.1L708.0 427.0L712.7 424.4L714.4 423.9L716.6 423.1L719.5 421.6L721.8 420.3L724.2 418.5L725.5 417.7L726.9 416.4L729.4 415.1ZM740.7 404.0L740.5 406.6L741.9 404.7L742.2 405.5L741.3 407.6L742.5 408.4L743.6 408.6L745.6 407.6L746.5 407.9L744.5 410.2L742.8 411.8L741.3 411.5L740.1 412.3L739.5 413.6L738.9 414.1L737.0 415.4L734.5 417.2L732.0 418.2L732.4 417.5L731.8 417.2L734.5 415.1L735.0 413.6L733.4 412.5L734.3 411.5L736.3 410.7L737.8 408.6L738.9 407.1L739.2 405.3L739.5 404.7L739.1 403.7L739.1 401.4L739.1 399.5L739.9 399.5L740.5 400.8L741.6 401.6Z"/>
<path fill="#fdae6b" d="M670.8 415.9L672.4 416.7L673.6 416.4L675.6 415.9L676.7 416.2L674.8 419.3L673.5 420.0L671.9 422.1L671.8 421.3L669.1 423.1L668.7 423.1L667.4 422.9L667.5 420.8L668.5 419.0L668.6 416.9L669.4 415.7ZM691.4 345.4L691.8 347.3L693.5 346.5L694.1 347.5L695.1 348.6L694.6 349.6L694.6 352.0L694.6 353.3L695.2 353.5L695.4 355.9L694.9 357.2L695.2 359.0L697.5 360.3L698.8 361.6L699.9 362.7L699.6 363.2L700.5 365.0L700.7 367.7L701.8 367.1L702.4 368.4L702.9 367.9L702.7 370.8L703.9 372.4L704.7 373.4L705.9 375.5L705.6 377.6L705.4 378.9L704.5 380.7L704.9 382.8L703.9 385.2L703.0 386.5L701.6 388.8L701.0 390.1L699.7 391.9L697.6 394.6L695.3 395.6L693.5 397.7L692.2 399.0L690.4 401.4L688.8 402.7L687.4 404.5L685.9 406.3L685.7 407.1L683.8 408.1L681.5 408.1L679.0 409.2L677.3 410.2L675.5 411.2L674.3 410.2L673.3 409.7L674.2 408.4L672.9 408.9L670.0 410.7L668.5 409.9L667.5 409.7L666.4 409.4L664.7 408.6L664.2 407.1L664.8 405.0L665.1 403.7L664.5 402.7L662.5 402.4L663.8 401.1L664.2 399.3L662.3 401.1L660.1 401.6L662.1 400.0L663.0 398.5L664.4 397.2L665.0 395.3L662.2 397.7L660.6 398.5L658.9 400.6L657.6 399.5L658.2 398.0L657.6 396.1L657.0 395.1L657.6 394.6L655.4 393.0L653.9 393.0L652.2 391.7L648.1 391.9L645.0 392.7L642.1 393.8L640.0 393.5L637.3 394.8L635.1 395.6L634.1 396.9L633.1 398.0L631.1 398.0L629.7 398.2L627.9 397.7L626.3 398.0L624.7 398.2L622.9 399.5L622.2 399.5L621.0 400.0L619.5 401.1L618.1 400.8L616.5 400.8L614.9 399.3L613.8 398.7L614.4 397.2L615.5 396.9L616.2 396.4L616.5 395.3L617.4 393.5L617.7 391.9L617.6 389.3L617.7 387.8L618.0 386.5L617.6 384.6L617.8 383.9L617.2 382.8L617.3 380.7L616.7 378.6L616.5 377.6L617.4 378.6L617.1 376.3L618.0 377.1L618.4 378.1L618.8 376.8L618.2 374.7L618.1 373.9L617.8 373.1L618.3 371.6L618.9 371.1L619.3 369.7L619.4 368.2L620.6 366.3L620.5 368.2L621.8 366.3L623.9 365.6L625.0 364.5L627.1 363.5L628.2 363.2L628.6 363.5L630.6 362.7L632.0 362.4L632.6 361.6L633.3 361.6L634.4 361.6L637.1 360.9L638.4 359.6L639.3 358.3L640.7 356.9L641.1 355.9L641.3 354.6L643.3 352.2L643.8 354.6L645.0 354.1L644.3 352.8L645.2 351.5L646.3 352.0L646.8 350.2L648.2 348.8L649.0 347.8L650.2 347.3L650.3 346.5L651.2 346.8L651.3 346.2L652.4 346.0L653.6 345.4L655.1 346.8L656.3 348.3L657.6 348.3L659.0 348.6L658.7 347.0L660.1 344.9L661.1 344.4L661.0 343.6L662.1 342.1L663.5 341.3L664.7 341.5L666.8 341.0L667.0 339.7L665.2 338.9L666.7 338.4L667.9 339.2L669.2 340.2L670.9 340.7L671.7 340.5L672.9 341.3L674.4 340.7L675.3 340.7L675.8 340.5L676.8 341.8L675.9 343.1L674.9 344.1L674.2 344.1L674.3 345.2L673.4 346.5L672.3 347.8L672.5 348.6L674.0 350.2L675.7 350.9L676.7 351.7L678.0 353.3L678.6 353.3L679.6 354.1L679.9 354.9L681.8 355.6L683.6 354.9L684.3 353.3L685.0 352.2L685.5 350.7L686.6 348.6L686.5 347.5L686.6 346.8L686.6 345.2L687.4 343.1L687.7 342.6L687.5 341.8L688.2 340.5L688.8 338.9L688.9 338.1L690.0 337.4L690.5 338.7L690.5 340.2L690.9 340.5L691.0 341.5L691.5 342.8L691.5 344.4Z"/>
<path fill="#fee6ce" d="M351.6 215.9L352.9 217.2L355.1 216.9L357.2 217.4L358.1 217.4L359.0 219.3L359.2 220.8L359.8 223.5L360.5 224.0L360.0 225.0L357.2 225.5L356.1 226.6L355.0 226.9L354.7 228.7L352.1 229.7L351.4 231.0L349.4 231.8L347.2 232.1L343.6 234.2L343.5 237.0L333.7 237.0L334.8 236.3L336.8 236.0L338.7 234.2L339.8 233.4L341.6 231.3L341.3 227.9L342.2 225.8L342.5 224.2L343.8 222.7L346.1 221.4L347.8 220.3L349.4 217.7L350.1 215.9Z"/>
<path fill="url(#hatch)" stroke="#c6c6c6" d="M343.5 237.0L333.7 237.0L332.0 239.9L330.7 240.7L329.7 242.5L329.7 243.8L329.0 245.4L328.3 245.7L326.9 247.5L326.2 249.3L326.1 250.1L325.4 251.4L324.5 252.2L324.5 253.5L324.9 253.8L333.7 253.8L333.4 249.8L333.8 248.5L336.1 248.3L336.0 241.7L343.4 241.7L343.5 237.8Z"/>
<path fill="#fdd0a2" d="M343.5 237.8L343.6 234.2L347.2 232.1L349.4 231.8L351.4 231.0L352.1 229.7L354.7 228.7L355.0 226.9L356.1 226.6L357.2 225.5L360.0 225.0L360.5 224.0L359.8 223.5L359.2 220.8L359.0 219.3L358.1 217.4L360.3 216.1L362.7 215.6L364.0 214.6L366.1 213.8L369.8 213.3L373.3 213.0L374.3 213.5L376.5 212.5L378.6 212.5L379.5 213.0L381.0 213.0L380.6 214.3L381.1 216.7L380.5 218.8L379.3 220.3L379.5 222.4L381.3 224.0L381.3 224.5L382.9 225.5L383.9 230.2L384.6 232.6L384.9 233.6L384.5 236.0L384.7 237.0L384.3 238.6L384.6 240.2L383.7 241.2L385.1 243.0L385.1 244.4L386.1 245.7L387.2 245.1L389.0 246.4L389.9 248.0L382.3 253.0L375.8 258.2L372.7 259.2L370.2 259.5L369.9 257.9L369.0 257.4L367.7 256.9L367.0 255.6L359.3 249.8L351.9 244.1Z"/>
<path fill="#fee6ce" d="M383.9 230.2L382.9 225.5L381.3 224.5L381.3 224.0L379.5 222.4L379.3 220.3L380.5 218.8L381.1 216.7L380.6 214.3L381.0 213.0L383.4 212.0L384.9 212.2L384.9 213.5L386.6 212.5L386.8 213.0L385.8 214.3L385.9 215.6L386.5 216.1L386.4 218.5L384.9 219.8L385.4 221.1L386.7 221.1L387.2 222.4L388.1 222.9L387.9 224.8L386.9 225.5L386.2 226.3L384.9 227.4L385.2 228.4L385.0 229.7Z"/>
<path fill="#fee6ce" d="M396.5 249.6L394.7 250.6L393.6 249.3L389.9 248.0L389.0 246.4L387.2 245.1L386.1 245.7L385.1 244.4L385.1 243.0L383.7 241.2L384.6 240.2L384.3 238.6L384.7 237.0L384.5 236.0L384.9 233.6L384.6 232.6L383.9 230.2L385.0 229.7L385.2 228.4L384.9 227.4L386.2 226.3L386.9 225.5L387.9 224.8L388.1 222.9L390.8 223.7L391.6 223.5L393.4 224.0L396.3 225.0L397.5 227.4L399.5 227.9L402.7 228.9L405.2 230.2L406.2 229.7L407.3 228.4L406.5 226.3L407.1 225.3L408.7 224.0L410.0 223.7L413.2 224.2L413.9 225.3L414.8 225.3L415.5 225.8L417.7 226.1L418.4 226.9L417.6 228.2L418.1 229.2L417.6 231.0L418.4 233.1L419.4 251.9L419.6 257.2L417.1 257.2L416.9 258.2L407.7 253.2L398.7 248.3Z"/>
<path fill="#fdae6b" d="M446.2 251.9L419.4 251.9L418.4 233.1L417.6 231.0L418.1 229.2L417.6 228.2L418.4 226.9L421.3 226.9L423.5 227.6L425.8 228.4L426.7 228.7L428.4 227.9L429.2 227.1L431.2 226.9L432.8 227.4L433.6 228.7L433.9 227.6L435.7 228.4L437.5 228.4L438.6 227.9L440.3 232.3L439.7 233.4L439.5 235.5L439.1 236.8L438.5 237.3L437.7 236.3L436.5 235.2L434.7 231.3L434.5 231.6L435.6 234.4L437.1 237.0L439.2 241.2L440.2 242.5L441.0 244.1L443.2 247.0L442.8 247.2L442.9 249.1L445.7 251.4Z"/>
<path fill="#fee6ce" d="M441.0 284.6L440.6 284.6L440.5 283.3L440.3 282.5L439.1 281.4L438.8 279.6L439.0 277.5L437.8 277.5L437.8 278.1L436.5 278.1L437.0 278.8L437.2 280.4L436.1 282.0L435.0 283.8L433.7 284.1L431.8 282.5L430.9 283.0L430.7 283.8L429.5 284.3L429.5 284.8L427.2 284.8L426.8 284.3L425.2 284.3L424.5 284.6L423.8 284.3L422.6 283.0L422.1 282.2L420.5 282.5L419.9 283.8L419.2 286.2L418.5 286.7L417.8 286.9L417.6 286.7L416.9 285.9L416.7 285.1L417.1 284.1L417.1 283.0L415.7 281.4L415.4 280.4L415.4 279.6L414.5 278.8L414.5 277.3L414.0 276.5L413.1 276.5L413.3 275.4L413.9 274.4L413.7 273.4L414.4 272.6L413.9 272.0L414.5 270.5L415.4 268.4L417.4 268.6L416.9 258.2L417.1 257.2L419.6 257.2L419.4 251.9L446.2 251.9L447.1 254.5L446.6 255.1L447.0 257.7L448.1 260.8L449.0 261.3L450.2 262.4L449.2 263.9L447.6 264.2L446.9 265.0L446.8 266.8L445.8 270.7L446.1 271.8L446.0 273.9L445.1 276.5L443.8 277.8L442.7 279.9L442.5 280.9L441.6 281.7L441.0 284.3Z"/>
<path fill="#fee6ce" d="M441.0 284.6L441.1 286.7L440.6 287.5L439.5 287.5L438.8 289.0L440.2 289.3L441.4 290.6L441.8 291.6L442.8 292.2L444.2 295.0L442.6 296.9L441.3 298.4L439.9 299.5L438.3 299.5L436.4 300.0L434.8 299.5L433.9 300.3L432.0 298.4L431.3 297.4L430.2 297.9L429.0 297.6L428.4 298.2L427.4 297.9L426.0 295.8L425.6 294.8L423.9 294.0L423.2 292.4L422.3 291.1L420.6 289.8L420.6 289.0L419.5 288.0L417.8 286.9L418.5 286.7L419.2 286.2L419.9 283.8L420.5 282.5L422.1 282.2L422.6 283.0L423.8 284.3L424.5 284.6L425.2 284.3L426.8 284.3L427.2 284.8L429.5 284.8L429.5 284.3L430.7 283.8L430.9 283.0L431.8 282.5L433.7 284.1L435.0 283.8L436.1 282.0L437.2 280.4L437.0 278.8L436.5 278.1L437.8 278.1L437.8 277.5L439.0 277.5L438.8 279.6L439.1 281.4L440.3 282.5L440.5 283.3L440.6 284.6Z"/>
<path fill="#fee6ce" d="M396.1 275.7L396.3 274.7L394.9 274.4L394.9 272.8L393.8 271.8L394.8 268.4L397.5 266.0L397.7 262.6L398.5 257.2L398.9 256.1L398.0 255.3L398.0 254.5L397.0 253.8L396.5 249.6L398.7 248.3L407.7 253.2L416.9 258.2L417.4 268.6L415.4 268.4L414.5 270.5L413.9 272.0L414.4 272.6L413.7 273.4L413.9 274.4L413.3 275.4L413.1 276.5L414.0 276.5L414.5 277.3L414.5 278.8L415.4 279.6L415.4 280.4L412.7 281.7L411.2 284.6L409.1 285.9L406.8 285.6L406.1 285.9L406.4 286.9L405.2 287.7L404.3 288.8L401.3 289.8L400.9 289.3L400.4 289.0L399.9 289.8L398.1 290.1L398.3 289.3L397.6 287.5L397.4 286.4L396.2 285.9L395.1 284.6L395.5 283.3L396.4 283.5L397.1 283.3L398.5 283.3L397.1 280.9L397.3 279.1L397.0 277.5Z"/>
<path fill="#fee6ce" d="M367.9 278.3L367.9 276.5L365.2 275.7L365.2 274.7L363.8 272.8L363.6 271.8L363.8 270.5L365.2 270.2L366.1 269.4L369.1 269.2L371.1 268.6L371.3 267.1L372.7 265.3L372.7 259.2L375.8 258.2L382.3 253.0L389.9 248.0L393.6 249.3L394.7 250.6L396.5 249.6L397.0 253.8L398.0 254.5L398.0 255.3L398.9 256.1L398.5 257.2L397.7 262.6L397.5 266.0L394.8 268.4L393.8 271.8L394.9 272.8L394.9 274.4L396.3 274.7L396.1 275.7L395.4 276.0L395.4 276.7L395.0 276.7L393.3 273.9L392.9 273.9L391.1 275.4L389.2 274.7L388.1 274.4L387.4 274.9L386.0 274.7L384.7 275.7L383.5 276.0L380.8 274.7L379.6 275.2L378.5 275.2L377.5 274.1L375.3 273.1L373.0 273.6L372.3 274.1L372.1 275.4L371.4 276.5L371.2 278.8L369.3 277.5L368.6 277.5Z"/>
<path fill="#fee6ce" d="M335.0 271.3L335.9 270.7L336.2 269.2L337.1 269.2L338.5 270.0L339.8 269.4L340.8 269.4L341.0 268.9L350.3 268.9L350.8 267.1L350.4 266.8L349.3 255.6L348.3 244.1L351.9 244.1L359.3 249.8L367.0 255.6L367.7 256.9L369.0 257.4L369.9 257.9L370.2 259.5L372.7 259.2L372.7 265.3L371.3 267.1L371.1 268.6L369.1 269.2L366.1 269.4L365.2 270.2L363.8 270.5L362.2 270.5L361.8 270.0L360.4 270.2L358.3 271.3L357.9 272.3L356.0 273.4L355.8 274.1L354.9 274.7L353.7 274.1L353.1 274.9L352.8 276.7L351.0 278.8L351.0 279.6L350.3 280.7L350.5 282.2L349.6 282.8L348.9 283.0L348.7 282.0L348.0 282.2L347.5 282.2L347.1 283.0L345.4 283.0L344.8 282.5L344.5 282.8L343.8 282.0L343.9 281.2L343.6 280.9L343.2 281.2L343.2 280.4L343.6 279.6L342.7 278.6L342.5 277.8L342.0 277.3L341.6 277.3L340.9 277.5L340.2 277.8L339.5 278.6L338.6 278.3L337.9 277.5L337.7 277.5L337.0 277.8L336.5 277.8L336.6 277.0L336.6 276.0L336.3 275.2L335.7 274.4L335.2 272.8Z"/>
<path fill="#fee6ce" d="M335.0 271.3L333.7 269.4L332.3 267.6L330.8 266.8L329.6 266.0L328.5 266.0L327.3 266.6L326.2 266.3L325.3 267.3L325.3 265.8L325.8 264.5L326.3 262.1L325.9 259.5L325.7 258.2L326.0 256.9L325.5 255.6L324.2 254.5L324.9 253.8L333.7 253.8L333.4 249.8L333.8 248.5L336.1 248.3L336.0 241.7L343.4 241.7L343.5 237.8L351.9 244.1L348.3 244.1L349.3 255.6L350.4 266.8L350.8 267.1L350.3 268.9L341.0 268.9L340.8 269.4L339.8 269.4L338.5 270.0L337.1 269.2L336.2 269.2L335.9 270.7Z"/>
<path fill="#fee6ce" d="M324.7 273.9L323.8 271.8L322.7 271.0L323.6 270.5L324.8 268.6L325.3 267.3L326.2 266.3L327.3 266.6L328.5 266.0L329.6 266.0L330.8 266.8L332.3 267.6L333.7 269.4L335.0 271.3L335.2 272.8L335.7 274.4L336.3 275.2L336.6 276.0L336.6 277.0L336.1 277.0L335.0 276.7L334.7 277.0L334.3 277.3L332.7 276.5L331.5 276.5L327.4 276.5L326.7 276.7L326.0 276.7L324.6 277.0L324.4 274.9L326.5 275.2L327.0 274.7L327.4 274.7L328.3 274.1L329.3 274.7L330.2 274.7L331.3 274.1L330.9 273.4L330.0 273.9L329.3 273.9L328.4 273.1L327.7 273.1L327.2 273.9Z"/>
<path fill="#fee6ce" d="M324.4 274.9L324.7 273.9L327.2 273.9L327.7 273.1L328.4 273.1L329.3 273.9L330.0 273.9L330.9 273.4L331.3 274.1L330.2 274.7L329.3 274.7L328.3 274.1L327.4 274.7L327.0 274.7L326.5 275.2Z"/>
<path fill="#fee6ce" d="M324.6 277.0L326.0 276.7L326.7 276.7L327.4 276.5L331.5 276.5L331.5 277.5L331.3 277.8L331.5 278.6L331.0 278.8L330.6 278.8L329.9 279.4L329.2 279.4L328.3 280.7L326.9 279.4L326.0 279.4L325.5 278.6L324.9 277.5Z"/>
<path fill="#fee6ce" d="M343.6 289.3L342.9 289.3L342.4 290.3L341.7 290.3L341.3 289.8L341.5 288.8L340.4 287.2L339.9 287.5L339.4 287.5L338.8 287.7L338.8 286.7L338.3 285.9L338.5 285.1L338.1 284.1L337.4 283.3L335.6 283.3L334.9 283.5L334.4 283.8L334.0 284.3L333.7 285.1L332.6 286.2L331.4 284.6L330.5 283.5L330.1 283.3L329.4 282.8L329.2 281.4L328.9 280.9L328.3 280.7L329.2 279.4L329.9 279.4L330.6 278.8L331.0 278.8L331.5 278.6L331.3 277.8L331.5 277.5L331.5 276.5L332.7 276.5L334.3 277.3L334.7 277.0L335.0 276.7L336.1 277.0L336.6 277.0L336.5 277.8L337.0 277.8L337.7 277.5L337.9 277.5L338.6 278.3L339.5 278.6L340.2 277.8L340.9 277.5L341.6 277.3L342.0 277.3L342.5 277.8L342.7 278.6L343.6 279.6L343.2 280.4L343.2 281.2L343.6 280.9L343.9 281.2L343.8 282.0L344.5 282.8L344.1 283.0L343.8 283.8L344.3 284.8L345.0 286.9L344.0 287.2L343.8 287.7L344.0 288.2L343.8 289.3Z"/>
<path fill="#fee6ce" d="M336.7 291.6L336.0 291.4L334.4 290.3L333.2 289.0L332.8 288.0L332.6 286.2L333.7 285.1L334.0 284.3L334.4 283.8L334.9 283.5L335.6 283.3L337.4 283.3L338.1 284.1L338.5 285.1L338.3 285.9L338.8 286.7L338.8 287.7L339.4 287.5L338.3 288.8L337.4 290.1L337.1 290.9Z"/>
<path fill="#fee6ce" d="M345.2 297.9L344.5 297.9L342.2 296.9L340.1 294.8L338.0 293.5L336.7 291.6L337.1 290.9L337.4 290.1L338.3 288.8L339.4 287.5L339.9 287.5L340.4 287.2L341.5 288.8L341.3 289.8L341.7 290.3L342.4 290.3L342.9 289.3L343.6 289.3L343.3 290.1L343.6 291.4L343.1 292.4L343.8 293.2L344.5 293.5L345.4 294.5L345.6 295.6L345.4 295.8Z"/>
<path fill="#fdae6b" d="M356.2 296.3L355.3 296.3L353.7 295.8L352.3 295.8L349.5 296.3L347.9 297.1L345.6 298.2L345.2 297.9L345.4 295.8L345.6 295.6L345.4 294.5L344.5 293.5L343.8 293.2L343.1 292.4L343.6 291.4L343.3 290.1L343.6 289.3L343.8 289.3L344.0 288.2L343.8 287.7L344.0 287.2L345.0 286.9L344.3 284.8L343.8 283.8L344.1 283.0L344.5 282.8L344.8 282.5L345.4 283.0L347.1 283.0L347.5 282.2L348.0 282.2L348.7 282.0L348.9 283.0L349.6 282.8L350.5 282.2L351.4 282.8L351.9 283.8L353.0 284.3L353.7 283.5L354.9 283.5L356.5 284.3L356.9 288.0L356.0 290.1L355.5 292.9L356.4 295.3Z"/>
<path fill="#fee6ce" d="M365.4 294.0L361.7 295.6L360.4 296.3L358.3 297.1L356.2 296.3L356.4 295.3L355.5 292.9L356.0 290.1L356.9 288.0L356.5 284.3L356.0 282.2L356.2 280.7L360.1 280.7L361.1 280.9L362.0 280.4L362.9 280.7L362.9 281.4L363.8 282.8L363.8 284.6L364.0 286.7L364.5 287.7L364.1 290.1L364.3 291.4L364.7 292.9Z"/>
<path fill="#fee6ce" d="M367.3 293.5L365.4 294.0L364.7 292.9L364.3 291.4L364.1 290.1L364.5 287.7L364.0 286.7L363.8 284.6L363.8 282.8L362.9 281.4L362.9 280.7L365.0 280.7L364.7 282.0L365.4 282.8L366.1 283.8L366.3 285.1L366.8 285.6L366.6 291.6Z"/>
<path fill="#fee6ce" d="M369.1 292.9L367.3 293.5L366.6 291.6L366.8 285.6L366.3 285.1L366.1 283.8L365.4 282.8L364.7 282.0L365.0 280.7L365.7 280.4L366.1 279.4L367.3 279.1L367.9 278.3L368.6 277.5L369.3 277.5L371.2 278.8L371.2 279.9L371.6 281.4L371.2 282.5L371.4 283.0L370.3 284.8L369.6 285.6L369.1 287.2L369.1 288.8Z"/>
<path fill="#fee6ce" d="M356.5 284.3L354.9 283.5L353.7 283.5L353.0 284.3L351.9 283.8L351.4 282.8L350.5 282.2L350.3 280.7L351.0 279.6L351.0 278.8L352.8 276.7L353.1 274.9L353.7 274.1L354.9 274.7L355.8 274.1L356.0 273.4L357.9 272.3L358.3 271.3L360.4 270.2L361.8 270.0L362.2 270.5L363.8 270.5L363.6 271.8L363.8 272.8L365.2 274.7L365.2 275.7L367.9 276.5L367.9 278.3L367.3 279.1L366.1 279.4L365.7 280.4L365.0 280.7L362.9 280.7L362.0 280.4L361.1 280.9L360.1 280.7L356.2 280.7L356.0 282.2Z"/>
<path fill="#fdd0a2" d="M382.5 296.9L380.2 297.9L379.3 297.6L378.3 298.4L376.5 298.2L375.3 296.6L374.4 294.8L372.8 292.9L371.2 292.9L369.1 292.9L369.1 288.8L369.1 287.2L369.6 285.6L370.3 284.8L371.4 283.0L371.2 282.5L371.6 281.4L371.2 279.9L371.2 278.8L371.4 276.5L372.1 275.4L372.3 274.1L373.0 273.6L375.3 273.1L377.5 274.1L378.5 275.2L379.6 275.2L380.8 274.7L383.5 276.0L384.7 275.7L386.0 274.7L387.4 274.9L388.1 274.4L389.2 274.7L391.1 275.4L392.9 273.9L393.3 273.9L395.0 276.7L395.4 276.7L396.4 277.8L396.1 278.3L395.9 279.1L394.1 281.2L393.4 282.8L393.2 284.3L392.8 284.8L392.3 286.7L391.0 287.7L390.7 289.0L390.0 290.1L389.8 291.1L388.5 292.2L387.1 290.9L386.1 291.1L384.8 292.4L384.1 292.7L383.2 295.0Z"/>
<path fill="#fee6ce" d="M396.1 275.7L397.0 277.5L397.3 279.1L397.1 280.9L398.5 283.3L397.1 283.3L396.4 283.5L395.5 283.3L395.1 284.6L396.2 285.9L397.4 286.4L397.6 287.5L398.3 289.3L398.1 290.1L397.0 292.7L396.3 293.2L396.3 295.0L396.5 296.3L396.3 297.1L397.5 298.4L397.5 299.2L398.4 300.8L399.6 301.6L399.6 302.6L399.8 303.4L399.6 305.0L397.7 304.2L395.9 303.7L393.1 303.4L392.9 303.4L391.5 303.7L390.1 303.4L389.0 303.4L385.0 303.4L385.5 301.3L384.6 299.7L383.4 299.2L383.0 297.9L382.5 297.6L382.5 296.9L383.2 295.0L384.1 292.7L384.8 292.4L386.1 291.1L387.1 290.9L388.5 292.2L389.8 291.1L390.0 290.1L390.7 289.0L391.0 287.7L392.3 286.7L392.8 284.8L393.2 284.3L393.4 282.8L394.1 281.2L395.9 279.1L396.1 278.3L396.4 277.8L395.4 276.7L395.4 276.0Z"/>
<path fill="#fee6ce" d="M398.1 290.1L399.9 289.8L400.4 289.0L400.9 289.3L401.3 289.8L404.3 288.8L405.2 287.7L406.4 286.9L406.1 285.9L406.8 285.6L409.1 285.9L411.2 284.6L412.7 281.7L413.8 280.7L415.4 280.4L415.7 281.4L417.1 283.0L417.1 284.1L416.7 285.1L416.9 285.9L417.6 286.7L419.5 288.0L420.6 289.0L420.6 289.8L422.3 291.1L423.2 292.4L423.9 294.0L425.6 294.8L426.0 295.8L425.1 296.1L423.7 295.8L422.1 295.6L421.2 295.8L420.7 296.6L420.0 296.6L419.1 296.1L416.6 297.4L415.4 297.1L415.2 297.4L414.5 299.0L412.9 298.4L411.1 298.2L409.7 297.1L407.8 296.3L406.5 297.1L405.5 298.4L405.5 300.3L403.9 300.0L402.3 299.7L400.9 301.0L399.8 303.4L399.6 302.6L399.6 301.6L398.4 300.8L397.5 299.2L397.5 298.4L396.3 297.1L396.5 296.3L396.3 295.0L396.3 293.2L397.0 292.7Z"/>
<path fill="#fd8d3c" d="M433.9 300.3L433.9 303.4L434.9 303.7L434.2 304.7L433.3 305.2L432.3 306.5L431.9 307.8L431.7 309.9L431.2 311.0L431.2 312.8L430.5 313.6L430.5 315.1L430.0 315.4L429.8 316.7L430.5 318.0L430.4 321.2L430.9 323.5L430.6 324.8L431.0 326.4L432.4 327.9L433.5 331.1L432.6 330.8L429.6 331.3L428.9 331.6L428.2 333.4L428.8 334.5L428.3 337.6L428.0 340.2L428.5 340.7L430.0 341.8L430.7 341.3L430.9 344.1L429.1 343.9L428.2 342.6L427.5 341.5L425.7 341.0L425.3 339.7L423.9 340.5L422.0 340.2L421.2 338.9L419.8 338.7L418.6 338.9L418.7 338.1L417.7 337.9L416.8 337.9L415.2 338.1L414.3 338.1L413.8 338.4L413.9 335.3L413.2 334.2L413.0 332.6L413.3 331.1L412.8 330.0L412.8 328.5L410.1 328.5L410.3 327.4L409.2 327.4L408.9 327.9L407.5 328.2L407.1 329.5L406.6 330.3L405.5 329.8L404.5 330.3L403.1 330.6L402.2 329.0L401.8 328.2L401.1 326.6L400.4 324.8L393.8 324.8L392.8 325.1L392.1 325.1L391.2 325.3L391.0 324.6L391.5 324.3L391.7 323.0L391.9 322.5L392.9 321.9L393.5 322.2L394.2 321.2L395.4 321.2L395.6 321.9L396.5 322.5L397.9 320.6L399.3 319.6L399.8 318.5L399.8 316.5L400.7 313.8L401.9 312.5L403.3 311.2L403.5 310.4L403.7 309.7L404.0 308.6L404.0 307.0L404.2 305.0L404.6 303.1L405.3 301.8L405.5 300.3L405.5 298.4L406.5 297.1L407.8 296.3L409.7 297.1L411.1 298.2L412.9 298.4L414.5 299.0L415.2 297.4L415.4 297.1L416.6 297.4L419.1 296.1L420.0 296.6L420.7 296.6L421.2 295.8L422.1 295.6L423.7 295.8L425.1 296.1L426.0 295.8L427.4 297.9L428.4 298.2L429.0 297.6L430.2 297.9L431.3 297.4L432.0 298.4Z"/>
<path fill="#fee6ce" d="M392.9 321.9L391.9 320.9L391.2 321.4L390.3 322.5L388.5 319.8L390.3 318.3L389.4 316.7L390.1 315.9L391.7 315.7L392.0 314.4L393.1 315.7L395.2 315.9L395.9 314.6L396.1 312.8L395.9 311.0L394.7 309.4L395.9 306.3L395.2 305.7L393.6 306.0L392.9 304.7L393.1 303.4L395.9 303.7L397.7 304.2L399.6 305.0L399.8 303.4L400.9 301.0L402.3 299.7L403.9 300.0L405.5 300.3L405.3 301.8L404.6 303.1L404.2 305.0L404.0 307.0L404.0 308.6L403.7 309.7L403.5 310.4L403.3 311.2L401.9 312.5L400.7 313.8L399.8 316.5L399.8 318.5L399.3 319.6L397.9 320.6L396.5 322.5L395.6 321.9L395.4 321.2L394.2 321.2L393.5 322.2Z"/>
<path fill="#fee6ce" d="M389.0 303.4L390.1 303.4L391.5 303.7L392.9 303.4L393.1 303.4L392.9 304.7L393.6 306.0L395.2 305.7L395.9 306.3L394.7 309.4L395.9 311.0L396.1 312.8L395.9 314.6L395.2 315.9L393.1 315.7L392.0 314.4L391.7 315.7L390.1 315.9L389.4 316.7L390.3 318.3L388.5 319.8L386.2 317.2L384.6 314.9L383.2 312.3L383.2 311.5L383.7 310.7L384.4 308.6L384.8 306.8L385.5 306.5L389.0 306.5Z"/>
<path fill="#fee6ce" d="M384.8 306.8L384.4 306.3L385.0 303.4L389.0 303.4L389.0 306.5L385.5 306.5Z"/>
<path fill="#fee6ce" d="M400.4 324.8L401.1 326.6L401.8 328.2L402.2 329.0L403.1 330.6L404.5 330.3L405.5 329.8L406.6 330.3L407.1 329.5L407.5 328.2L408.9 327.9L409.2 327.4L410.3 327.4L410.1 328.5L412.8 328.5L412.8 330.0L413.3 331.1L413.0 332.6L413.2 334.2L413.9 335.3L413.8 338.4L414.3 338.1L415.2 338.1L416.8 337.9L417.7 337.9L418.0 338.7L417.7 340.0L418.1 341.3L417.6 342.3L417.9 343.1L413.0 343.1L412.8 351.5L414.4 353.5L415.7 355.1L411.6 356.2L406.1 355.9L404.6 354.6L395.2 354.9L395.0 354.9L393.6 353.8L392.1 353.5L390.7 354.1L389.5 354.6L389.3 353.0L389.8 350.7L390.5 348.3L390.8 347.0L391.5 344.7L392.0 343.6L393.4 342.1L394.1 340.7L394.3 338.9L394.3 337.4L393.7 336.6L393.0 335.0L392.5 333.4L392.6 332.9L393.2 331.9L392.6 329.3L392.1 327.4L391.0 325.9L391.2 325.3L392.1 325.1L392.8 325.1L393.8 324.8ZM391.5 324.3L391.0 324.6L390.3 322.5L391.2 321.4L391.9 320.9L392.9 321.9L391.9 322.5L391.7 323.0Z"/>
<path fill="#fee6ce" d="M433.5 331.1L434.6 331.9L435.5 332.4L436.9 332.6L438.3 333.4L439.2 334.7L439.8 336.8L439.3 337.6L438.8 339.7L439.2 341.8L438.5 342.8L437.7 345.2L438.8 346.0L431.9 348.1L432.1 349.9L430.2 350.2L428.8 351.2L428.5 352.2L427.9 352.5L425.7 354.6L424.3 356.2L423.6 356.4L422.9 355.9L420.5 355.6L420.0 355.6L420.0 355.4L419.1 354.9L417.5 354.6L415.7 355.1L414.4 353.5L412.8 351.5L413.0 343.1L417.9 343.1L417.6 342.3L418.1 341.3L417.7 340.0L418.0 338.7L417.7 337.9L418.7 338.1L418.6 338.9L419.8 338.7L421.2 338.9L422.0 340.2L423.9 340.5L425.3 339.7L425.7 341.0L427.5 341.5L428.2 342.6L429.1 343.9L430.9 344.1L430.7 341.3L430.0 341.8L428.5 340.7L428.0 340.2L428.3 337.6L428.8 334.5L428.2 333.4L428.9 331.6L429.6 331.3L432.6 330.8Z"/>
<path fill="#fdd0a2" d="M441.1 312.0L441.6 312.3L449.8 317.5L450.0 319.1L453.2 321.7L452.0 324.8L452.2 326.4L453.6 327.2L453.8 327.9L453.1 329.5L453.3 330.3L453.0 331.6L453.7 333.2L454.5 335.8L455.4 336.3L455.8 337.6L453.5 337.9L451.0 338.9L449.6 338.9L448.9 339.7L447.3 339.7L446.6 340.0L443.9 339.2L442.2 339.4L441.7 336.0L440.8 334.7L440.3 334.0L438.3 333.4L436.9 332.6L435.5 332.4L434.6 331.9L433.5 331.1L432.4 327.9L431.0 326.4L430.6 324.8L430.9 323.5L430.4 321.2L431.6 321.2L432.3 320.1L433.2 318.8L433.9 318.3L433.7 317.2L433.2 316.7L433.2 315.7L433.9 315.4L433.9 313.8L433.0 312.3L434.0 312.0L436.5 312.0Z"/>
<path fill="#fee6ce" d="M457.5 311.8L458.9 313.8L457.2 314.9L456.5 315.9L455.8 316.2L455.3 318.0L454.6 319.1L454.2 320.6L453.2 321.7L450.0 319.1L449.8 317.5L441.6 312.3L441.1 312.0L441.1 309.1L441.8 308.1L442.9 306.3L443.6 304.4L442.7 301.3L442.4 300.0L441.3 298.4L442.6 296.9L444.2 295.0L445.4 295.6L445.4 296.9L446.3 297.9L447.9 297.9L450.7 300.0L451.4 300.0L452.1 300.0L452.6 300.3L454.2 300.5L454.9 299.5L456.9 298.2L457.9 299.2L459.5 299.2L457.4 302.1Z"/>
<path fill="#fee6ce" d="M436.5 312.0L434.0 312.0L433.0 312.3L431.6 313.1L431.2 312.8L431.2 311.0L431.7 309.9L431.9 307.8L432.3 306.5L433.3 305.2L434.2 304.7L434.9 303.7L433.9 303.4L433.9 300.3L434.8 299.5L436.4 300.0L438.3 299.5L439.9 299.5L441.3 298.4L442.4 300.0L442.7 301.3L443.6 304.4L442.9 306.3L441.8 308.1L441.1 309.1L441.1 312.0Z"/>
<path fill="#fee6ce" d="M433.0 312.3L433.9 313.8L433.9 315.4L433.2 315.7L431.9 315.4L431.1 317.0L429.8 316.7L430.0 315.4L430.5 315.1L430.5 313.6L431.2 312.8L431.6 313.1Z"/>
<path fill="#fee6ce" d="M430.4 321.2L430.5 318.0L429.8 316.7L431.1 317.0L431.9 315.4L433.2 315.7L433.2 316.7L433.7 317.2L433.9 318.3L433.2 318.8L432.3 320.1L431.6 321.2Z"/>
<path fill="#fdae6b" d="M449.5 270.2L450.9 271.5L452.3 271.0L452.7 271.5L454.3 271.5L456.4 272.6L457.1 273.4L458.1 274.1L459.1 275.7L460.0 276.7L459.2 277.8L458.5 279.1L458.5 279.6L458.8 280.4L460.0 280.7L460.6 280.4L461.1 280.9L460.7 281.7L461.4 283.3L462.4 284.6L463.3 285.4L470.8 288.5L472.8 288.5L466.6 296.3L463.6 296.3L461.5 298.2L459.9 298.4L459.5 299.2L457.9 299.2L456.9 298.2L454.9 299.5L454.2 300.5L452.6 300.3L452.1 300.0L451.4 300.0L450.7 300.0L447.9 297.9L446.3 297.9L445.4 296.9L445.4 295.6L444.2 295.0L442.8 292.2L441.8 291.6L441.4 290.6L440.2 289.3L438.8 289.0L439.5 287.5L440.6 287.5L441.1 286.7L441.0 284.3L441.6 281.7L442.5 280.9L442.7 279.9L443.8 277.8L445.1 276.5L446.0 273.9L446.1 271.8L448.9 272.3Z"/>
<path fill="#fee6ce" d="M460.0 276.7L459.1 275.7L458.1 274.1L457.1 273.4L456.4 272.6L454.3 271.5L452.7 271.5L452.3 271.0L450.9 271.5L449.5 270.2L448.9 272.3L446.1 271.8L445.8 270.7L446.8 266.8L446.9 265.0L447.6 264.2L449.2 263.9L450.2 262.4L451.7 265.5L452.6 267.9L453.8 269.2L457.1 271.5L458.3 273.1L459.7 274.7L460.4 275.4L461.6 276.2L460.9 276.7Z"/>
<path fill="#fee6ce" d="M461.6 276.2L462.1 277.0L462.1 278.1L460.8 278.8L461.7 279.4L461.1 280.9L460.6 280.4L460.0 280.7L458.8 280.4L458.5 279.6L458.5 279.1L459.2 277.8L460.0 276.7L460.9 276.7Z"/>
<path fill="#fee6ce" d="M476.9 279.1L478.2 278.8L479.1 278.1L480.0 278.1L480.1 278.8L479.9 280.1L480.0 281.7L479.5 282.5L479.2 285.4L478.1 288.2L476.8 291.6L474.9 295.6L472.8 298.4L470.3 301.8L468.1 304.2L464.6 306.5L462.3 308.6L459.8 311.8L459.3 313.1L458.9 313.8L457.5 311.8L457.4 302.1L459.5 299.2L459.9 298.4L461.5 298.2L463.6 296.3L466.6 296.3L472.8 288.5L470.8 288.5L463.3 285.4L462.4 284.6L461.4 283.3L460.7 281.7L461.1 280.9L461.7 279.4L462.7 279.9L463.2 280.9L464.2 282.2L465.3 282.2L467.6 281.4L469.8 281.2L471.9 280.4L473.0 280.1L473.9 279.6L475.1 279.6L476.0 279.6Z"/>
<path fill="#fee6ce" d="M442.2 339.4L443.9 339.2L446.6 340.0L447.3 339.7L448.9 339.7L449.6 338.9L451.0 338.9L453.5 337.9L455.8 337.6L455.5 340.2L455.9 342.3L455.7 346.5L456.1 347.8L455.4 349.6L454.4 351.5L452.9 353.0L450.6 354.1L448.0 355.4L445.3 358.3L444.4 358.5L442.7 360.6L441.8 361.1L441.5 363.0L442.5 365.0L442.9 366.3L442.8 367.1L443.3 367.1L442.9 369.7L442.6 370.8L443.0 371.3L442.7 372.4L441.6 373.4L439.7 374.2L436.9 375.8L436.0 376.5L436.1 377.6L436.5 377.8L436.2 379.1L434.6 379.1L434.5 378.1L434.1 376.8L434.2 376.0L434.6 373.1L434.3 371.3L433.3 367.7L435.7 364.5L436.5 362.7L437.0 362.4L437.3 360.9L436.9 360.1L437.2 358.3L437.5 356.4L437.6 353.0L436.5 352.2L435.6 352.0L435.0 351.5L434.1 350.9L432.0 350.9L432.1 349.9L431.9 348.1L438.8 346.0L440.2 347.3L440.9 347.0L441.8 347.5L441.7 348.6L441.2 349.9L441.3 351.7L442.6 353.3L443.4 351.5L444.6 350.9L444.5 347.5L443.6 345.7L442.8 344.9L442.1 344.9L441.5 341.5Z"/>
<path fill="#fee6ce" d="M442.2 339.4L441.5 341.5L442.1 344.9L442.8 344.9L443.6 345.7L444.5 347.5L444.6 350.9L443.4 351.5L442.6 353.3L441.3 351.7L441.2 349.9L441.7 348.6L441.8 347.5L440.9 347.0L440.2 347.3L438.8 346.0L437.7 345.2L438.5 342.8L439.2 341.8L438.8 339.7L439.3 337.6L439.8 336.8L439.2 334.7L438.3 333.4L440.3 334.0L440.8 334.7L441.7 336.0Z"/>
<path fill="#fee6ce" d="M433.3 367.7L432.2 367.4L431.3 367.7L430.2 367.1L429.3 367.1L428.0 365.8L426.2 365.6L425.6 364.0L425.6 363.0L424.7 362.7L422.3 359.8L421.7 358.3L421.1 357.7L420.5 355.6L422.9 355.9L423.6 356.4L424.3 356.2L425.7 354.6L427.9 352.5L428.5 352.2L428.8 351.2L430.2 350.2L432.1 349.9L432.0 350.9L434.1 350.9L435.0 351.5L435.6 352.0L436.5 352.2L437.6 353.0L437.5 356.4L437.2 358.3L436.9 360.1L437.3 360.9L437.0 362.4L436.5 362.7L435.7 364.5Z"/>
<path fill="#fee6ce" d="M421.1 357.7L421.7 358.3L422.3 359.8L424.7 362.7L425.6 363.0L425.6 364.0L426.2 365.6L428.0 365.8L429.3 367.1L426.0 369.0L423.9 371.1L423.2 372.6L422.4 373.7L421.1 373.9L420.8 375.2L420.5 376.0L418.9 376.5L417.1 376.5L416.1 375.8L415.2 375.5L414.0 376.0L413.5 377.3L412.3 378.1L411.2 379.1L409.6 379.4L409.2 378.6L409.5 377.1L408.3 374.4L407.6 374.2L407.9 366.3L410.1 366.3L410.4 357.2L412.2 356.9L415.7 356.2L416.5 357.2L417.9 356.2L418.6 356.2L420.0 355.6L420.5 355.6Z"/>
<path fill="#fee6ce" d="M399.1 384.1L397.7 382.0L396.8 380.2L396.5 377.6L395.9 375.8L395.3 371.8L395.4 368.7L395.2 367.1L394.3 366.1L393.2 364.0L391.9 360.9L391.5 359.0L389.7 356.7L389.5 354.6L390.7 354.1L392.1 353.5L393.6 353.8L395.0 354.9L395.2 354.9L404.6 354.6L406.1 355.9L411.6 356.2L415.7 355.1L417.5 354.6L419.1 354.9L420.0 355.4L420.0 355.6L418.6 356.2L417.9 356.2L416.5 357.2L415.7 356.2L412.2 356.9L410.4 357.2L410.1 366.3L407.9 366.3L407.6 374.2L407.2 383.9L405.1 385.2L404.0 385.2L402.4 384.9L401.6 384.6L401.2 383.6L400.3 382.8Z"/>
<path fill="#fd8d3c" d="M432.8 385.9L432.4 386.2L431.4 387.5L430.6 388.8L429.3 390.6L426.4 393.5L424.7 395.1L423.1 396.1L420.6 397.2L419.5 397.4L419.3 398.0L418.0 397.7L416.8 398.2L414.5 397.7L413.1 398.0L412.3 398.0L409.8 399.0L408.0 399.3L406.7 400.3L405.6 400.3L404.7 399.5L404.1 399.3L403.1 398.2L403.1 398.5L402.7 398.0L403.0 396.4L402.2 394.6L402.9 394.0L403.0 392.2L401.8 389.6L400.8 387.5L399.1 384.1L400.3 382.8L401.2 383.6L401.6 384.6L402.4 384.9L404.0 385.2L405.1 385.2L407.2 383.9L407.6 374.2L408.3 374.4L409.5 377.1L409.2 378.6L409.6 379.4L411.2 379.1L412.3 378.1L413.5 377.3L414.0 376.0L415.2 375.5L416.1 375.8L417.1 376.5L418.9 376.5L420.5 376.0L420.8 375.2L421.1 373.9L422.4 373.7L423.2 372.6L423.9 371.1L426.0 369.0L429.3 367.1L430.2 367.1L431.3 367.7L432.2 367.4L433.3 367.7L434.3 371.3L434.6 373.1L434.2 376.0L434.1 376.8L433.0 376.5L432.4 376.5L432.1 377.3L431.6 378.4L431.5 379.1L432.7 380.7L434.1 380.5L434.6 379.1L436.2 379.1L435.6 381.2L435.2 383.3L434.5 384.6Z"/>
<path fill="#fee6ce" d="M427.3 385.2L427.9 385.9L427.2 387.0L426.7 388.0L425.5 388.3L425.0 389.1L424.1 389.3L422.7 387.5L424.0 385.7L425.3 384.9L426.3 384.1Z"/>
<path fill="#fee6ce" d="M434.6 379.1L434.1 380.5L432.7 380.7L431.5 379.1L431.6 378.4L432.1 377.3L432.4 376.5L433.0 376.5L434.1 376.8L434.5 378.1Z"/>
<path fill="#fee6ce" d="M476.3 342.1L476.9 343.1L477.5 344.9L477.6 348.1L478.2 349.1L477.9 350.4L477.4 351.2L476.8 349.6L476.3 350.4L476.6 352.5L476.3 353.5L475.6 354.1L475.2 356.4L474.1 359.3L472.7 363.0L471.0 367.9L469.8 371.6L468.7 374.4L466.8 375.2L464.7 376.3L463.4 375.5L461.7 374.7L461.3 373.4L461.3 371.1L460.5 369.0L460.7 367.1L461.0 365.0L462.2 364.8L462.3 363.7L463.5 361.9L463.9 360.1L463.2 359.0L462.9 357.2L463.0 354.9L463.8 353.5L464.1 351.7L465.3 351.7L466.7 351.2L467.6 350.7L468.5 350.7L470.0 349.1L471.9 347.5L472.7 346.2L472.5 345.2L473.4 345.4L474.6 343.6L474.9 342.1L475.7 340.7Z"/>
<path fill="#fd8d3c" d="M216.4 129.3L219.0 126.3L222.8 125.1L226.5 125.5L229.5 124.4L232.5 125.1L234.0 127.0L239.3 127.4L243.0 128.5L245.3 129.3L249.0 130.8L250.9 133.0L249.8 134.5L247.5 134.9L248.3 136.0L252.0 137.5L256.5 139.4L253.5 140.9L250.5 143.1L249.0 142.8L247.5 140.9L245.3 140.5L244.5 141.3L246.8 143.5L247.5 146.5L246.8 148.0L243.0 148.8L240.8 146.5L240.0 148.0L236.3 147.3L232.5 144.6L228.8 144.3L225.4 143.9L226.1 142.8L231.0 141.6L234.8 140.9L237.8 137.5L237.8 136.0L235.5 134.5L232.5 131.9L228.8 131.9L222.0 131.5L217.5 131.1ZM232.3 137.2L234.5 136.1L236.8 136.6L235.5 138.0L233.0 138.2ZM224.2 111.9L226.5 110.7L231.1 109.9L235.6 109.6L236.4 108.4L244.1 107.6L250.9 106.9L260.9 106.7L270.0 106.9L277.7 107.3L268.5 109.6L260.9 111.5L253.2 113.4L249.4 114.9L245.6 116.4L239.5 118.0L232.6 118.7L227.6 118.3L230.3 116.8L234.9 115.7L234.1 114.5L227.2 114.5L224.6 113.8ZM219.6 120.6L221.9 118.7L224.9 119.1L228.0 120.3L237.9 120.3L238.7 121.8L230.3 122.2L221.1 122.2ZM218.1 114.5L221.9 114.1L222.6 116.4L217.3 118.3Z"/>
<path fill="#d94801" d="M446.4 128.5L448.5 123.4L449.9 120.8L455.5 118.9L464.9 117.2L467.5 118.4L461.2 119.9L455.5 121.8L452.7 124.8L453.2 127.6L457.4 130.2L450.4 130.6ZM493.2 111.1L496.5 109.5L504.0 110.8L508.7 113.3L505.9 114.4L498.4 113.0ZM510.1 113.3L515.3 113.7L518.1 114.4L514.4 115.5L510.6 115.2ZM427.1 110.7L430.6 109.8L435.3 110.7L431.8 111.6Z"/>
<path fill="#fee6ce" d="M304.8 264.5L305.5 263.9L306.2 264.5L305.5 265.1ZM306.9 266.0L307.5 265.5L308.1 266.0L307.5 266.5ZM309.8 268.5L310.5 267.9L311.2 268.5L310.5 269.1ZM305.9 270.0L306.5 269.5L307.1 270.0L306.5 270.5ZM308.4 271.0L309.0 270.5L309.6 271.0L309.0 271.5ZM461.9 339.5L462.5 339.0L463.1 339.5L462.5 340.0ZM463.9 341.0L464.5 340.5L465.1 341.0L464.5 341.5ZM492.3 362.4L493.0 361.8L493.7 362.4L493.0 363.0ZM489.9 322.0L490.4 321.6L490.9 322.0L490.4 322.4ZM531.5 299.0L532.0 298.6L532.5 299.0L532.0 299.4ZM531.8 301.0L532.3 300.6L532.8 301.0L532.3 301.4ZM220.1 264.1L220.6 263.7L221.1 264.1L220.6 264.5ZM221.9 265.3L222.4 264.9L222.9 265.3L222.4 265.7ZM222.4 269.4L222.9 269.0L223.4 269.4L222.9 269.8ZM223.0 273.5L223.5 273.1L224.0 273.5L223.5 273.9ZM226.0 275.3L226.5 274.9L227.0 275.3L226.5 275.7ZM220.7 278.2L221.2 277.8L221.7 278.2L221.2 278.6ZM747.5 310.7L748.0 310.3L748.5 310.7L748.0 311.1ZM767.5 324.0L768.0 323.6L768.5 324.0L768.0 324.4ZM772.8 332.0L773.3 331.6L773.8 332.0L773.3 332.4ZM767.5 342.7L768.0 342.3L768.5 342.7L768.0 343.1ZM0.0 304.7L0.8 304.1L1.6 304.7L0.8 305.3ZM377.5 308.6L378.1 308.1L378.7 308.6L378.1 309.1ZM382.4 300.3L383.0 299.8L383.6 300.3L383.0 300.8ZM672.1 290.2L672.6 289.8L673.1 290.2L672.6 290.6ZM711.3 290.2L711.8 289.8L712.3 290.2L711.8 290.6ZM726.7 292.0L727.2 291.6L727.7 292.0L727.2 292.4ZM755.7 292.0L756.2 291.6L756.7 292.0L756.2 292.4Z"/>
<path fill="url(#hatch)" d="M500.5 437.0L502.5 436.0L505.5 436.5L504.5 438.5L501.5 438.5Z"/>
</g>
<g stroke="#8a8a8a" stroke-width="0.35" fill="none">

</g>
<!-- legend -->
<g font-family="Liberation Sans" font-size="12.5" fill="#666">
<text x="157.5" y="510" textLength="46" lengthAdjust="spacingAndGlyphs">No data</text>
<rect x="157.3" y="517.3" width="47" height="10.8" fill="url(#hatch2)" stroke="#c4c4c4" stroke-width="0.7"/>
<line x1="181" y1="515.5" x2="181" y2="517.3" stroke="#bbb" stroke-width="0.7"/>
<path d="M224.1 522.6 L230.3 517 H282.9 V528.2 H230.3 Z" fill="#80b6c1" stroke="#7d7d7d" stroke-width="0.45"/>
<rect x="282.9" y="517" width="58.5" height="11.2" fill="#fee6ce" stroke="#7d7d7d" stroke-width="0.45"/>
<rect x="341.4" y="517" width="58.6" height="11.2" fill="#fdd0a2" stroke="#7d7d7d" stroke-width="0.45"/>
<rect x="400" y="517" width="58.5" height="11.2" fill="#fdae6b" stroke="#7d7d7d" stroke-width="0.45"/>
<rect x="458.5" y="517" width="58.5" height="11.2" fill="#fd8d3c" stroke="#7d7d7d" stroke-width="0.45"/>
<rect x="517" y="517" width="58.6" height="11.2" fill="#f16913" stroke="#7d7d7d" stroke-width="0.45"/>
<rect x="575.6" y="517" width="58.5" height="11.2" fill="#d94801" stroke="#7d7d7d" stroke-width="0.45"/>
<path d="M634.1 517 H687.8 L692.5 522.6 L687.8 528.2 H634.1 Z" fill="#8c2d04" stroke="#7d7d7d" stroke-width="0.45"/>
<g stroke="#888" stroke-width="0.6">
<line x1="282.9" y1="513.8" x2="282.9" y2="528.2"/><line x1="341.4" y1="513.8" x2="341.4" y2="528.2"/><line x1="400" y1="513.8" x2="400" y2="528.2"/><line x1="458.5" y1="513.8" x2="458.5" y2="528.2"/><line x1="517" y1="513.8" x2="517" y2="528.2"/><line x1="575.6" y1="513.8" x2="575.6" y2="528.2"/><line x1="634.1" y1="513.8" x2="634.1" y2="528.2"/>
</g>
<g text-anchor="middle">
<text x="282.9" y="510">0%</text><text x="341.4" y="510">0.2%</text><text x="400" y="510">0.5%</text><text x="458.5" y="510">1%</text><text x="517" y="510">2%</text><text x="575.6" y="510">5%</text><text x="634.1" y="510">10%</text>
</g>
</g>
</svg>
<div class="ft" style="top:549.3px"><b>Data source:</b> Global Carbon Budget (2025)</div>
<div class="ft" style="top:549.3px;left:auto;right:20px">OurWorldinData.org/co2-and-greenhouse-gas-emissions | CC BY</div>
<div class="ft" style="top:570px"><b>Note:</b> Emissions from land-use change can be positive or negative depending on whether carbon is emitted or sequestered.</div>
</body></html>
